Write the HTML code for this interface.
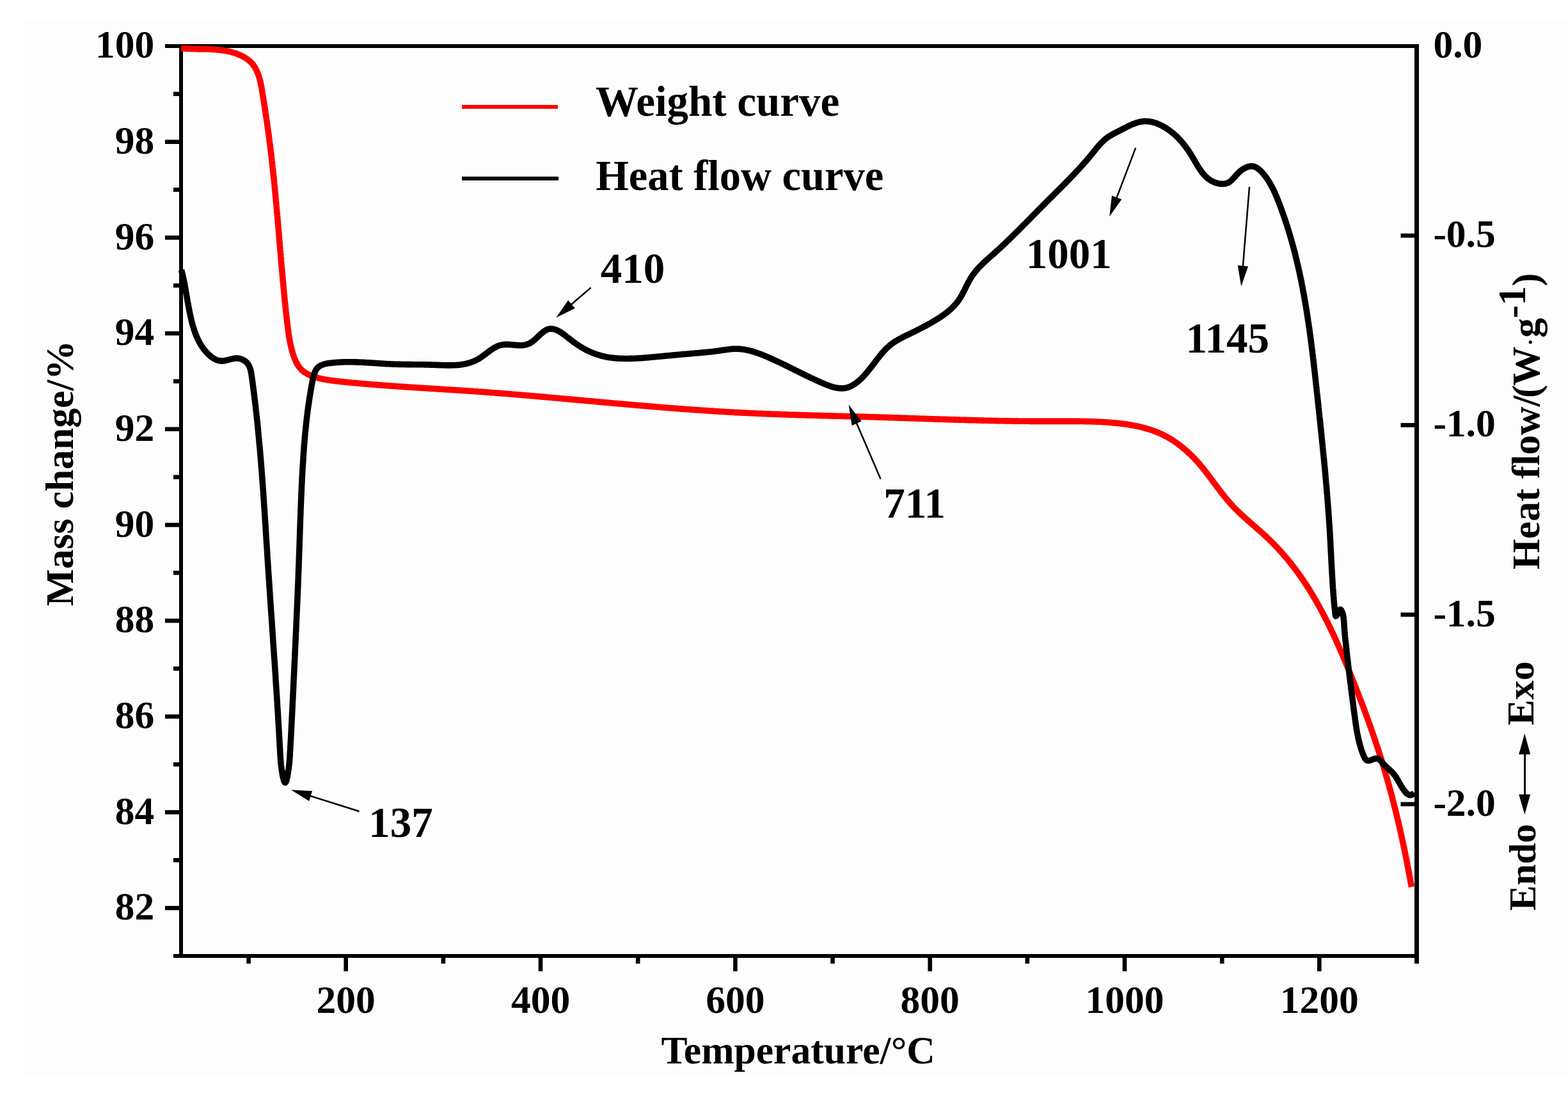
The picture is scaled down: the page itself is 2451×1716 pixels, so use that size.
<!DOCTYPE html><html><head><meta charset="utf-8"><title>TG-DSC curve</title><style>html,body{margin:0;padding:0;background:#fff;}svg{display:block;}text{font-family:'Liberation Serif','Times New Roman',serif;font-weight:bold;fill:#000;}</style></head><body>
<svg width="2451" height="1716" viewBox="0 0 2451 1716">
<rect x="0" y="0" width="2451" height="1716" fill="#ffffff"/>
<rect x="40" y="30" width="2411" height="1652" fill="#fdfdfd"/>
<g stroke="#000" stroke-width="6" fill="none" stroke-linecap="butt">
<path d="M283.0,69.0 V1497.0 M283.0,72.0 H2214.5 M283.0,1494.0 H2214.5"/>
<path d="M2214.5,69.0 V1506.0" stroke-width="7"/>
</g><g stroke="#000" stroke-width="6.6" fill="none">
<path d="M271.0,1494.0 H283.0" stroke-width="6"/>
<path d="M258.0,1419.1 H283.0"/>
<path d="M271.0,1344.3 H283.0"/>
<path d="M258.0,1269.4 H283.0"/>
<path d="M271.0,1194.6 H283.0"/>
<path d="M258.0,1119.8 H283.0"/>
<path d="M271.0,1044.9 H283.0"/>
<path d="M258.0,970.1 H283.0"/>
<path d="M271.0,895.2 H283.0"/>
<path d="M258.0,820.4 H283.0"/>
<path d="M271.0,745.6 H283.0"/>
<path d="M258.0,670.7 H283.0"/>
<path d="M271.0,595.9 H283.0"/>
<path d="M258.0,521.0 H283.0"/>
<path d="M271.0,446.2 H283.0"/>
<path d="M258.0,371.4 H283.0"/>
<path d="M271.0,296.5 H283.0"/>
<path d="M258.0,221.7 H283.0"/>
<path d="M271.0,146.8 H283.0"/>
<path d="M258.0,72.0 H283.0" stroke-width="6"/>
<path d="M388.6,1494.0 V1506.0"/>
<path d="M540.7,1494.0 V1518.0"/>
<path d="M692.9,1494.0 V1506.0"/>
<path d="M845.0,1494.0 V1518.0"/>
<path d="M997.2,1494.0 V1506.0"/>
<path d="M1149.4,1494.0 V1518.0"/>
<path d="M1301.5,1494.0 V1506.0"/>
<path d="M1453.7,1494.0 V1518.0"/>
<path d="M1605.8,1494.0 V1506.0"/>
<path d="M1758.0,1494.0 V1518.0"/>
<path d="M1910.2,1494.0 V1506.0"/>
<path d="M2062.3,1494.0 V1518.0"/>
<path d="M2214.5,1494.0 V1506.0"/>
<path d="M2189.5,368.2 H2214.5"/>
<path d="M2189.5,664.4 H2214.5"/>
<path d="M2189.5,960.6 H2214.5"/>
<path d="M2189.5,1256.8 H2214.5"/>
</g>
<text x="241.3" y="1437.3" font-size="61.5" text-anchor="end">82</text>
<text x="241.3" y="1287.6" font-size="61.5" text-anchor="end">84</text>
<text x="241.3" y="1138.0" font-size="61.5" text-anchor="end">86</text>
<text x="241.3" y="988.3" font-size="61.5" text-anchor="end">88</text>
<text x="241.3" y="838.6" font-size="61.5" text-anchor="end">90</text>
<text x="241.3" y="688.9" font-size="61.5" text-anchor="end">92</text>
<text x="241.3" y="539.2" font-size="61.5" text-anchor="end">94</text>
<text x="241.3" y="389.6" font-size="61.5" text-anchor="end">96</text>
<text x="241.3" y="239.9" font-size="61.5" text-anchor="end">98</text>
<text x="241.3" y="90.2" font-size="61.5" text-anchor="end">100</text>
<text x="2240.4" y="90.0" font-size="61.5">0.0</text>
<text x="2240.4" y="386.2" font-size="61.5">-0.5</text>
<text x="2240.4" y="682.4" font-size="61.5">-1.0</text>
<text x="2240.4" y="978.6" font-size="61.5">-1.5</text>
<text x="2240.4" y="1274.8" font-size="61.5">-2.0</text>
<text x="540.7" y="1583" font-size="61.5" text-anchor="middle">200</text>
<text x="845.0" y="1583" font-size="61.5" text-anchor="middle">400</text>
<text x="1149.4" y="1583" font-size="61.5" text-anchor="middle">600</text>
<text x="1453.7" y="1583" font-size="61.5" text-anchor="middle">800</text>
<text x="1758.0" y="1583" font-size="61.5" text-anchor="middle">1000</text>
<text x="2062.3" y="1583" font-size="61.5" text-anchor="middle">1200</text>
<text x="1033.4" y="1662" font-size="61.6">Temperature/°C</text>
<text transform="translate(114.2,947.3) rotate(-90)" font-size="61.5">Mass change/%</text>
<text transform="translate(2406.2,890) rotate(-90)" font-size="61.5">Heat flow/<tspan x="268">(</tspan><tspan x="286.9">W</tspan><tspan x="349.4" y="-3.3" font-size="34">·</tspan><tspan x="362.2" y="0">g</tspan><tspan x="392.4" y="-22">-</tspan><tspan x="412.4" y="-22">1</tspan><tspan x="442.7" y="0">)</tspan></text>
<text transform="translate(2399.5,1423.2) rotate(-90)" font-size="59.4">Endo</text>
<text transform="translate(2397.2,1133.6) rotate(-90)" font-size="60">Exo</text>
<path d="M2383.5,1170 V1252" stroke="#000" stroke-width="3"/>
<path d="M2383.2,1146.3 L2392.2,1179 L2374.2,1179 Z" fill="#000"/>
<path d="M2383.2,1272.8 L2392.2,1241.6 L2374.2,1241.6 Z" fill="#000"/>
<path d="M283.1,75.4 L284.6,75.5 L286.1,75.7 L287.6,75.8 L289.1,75.9 L290.6,76.0 L292.1,76.1 L293.6,76.1 L295.1,76.2 L296.6,76.3 L298.1,76.3 L299.6,76.4 L301.1,76.4 L302.6,76.5 L304.1,76.5 L305.6,76.5 L307.1,76.5 L308.6,76.6 L310.1,76.6 L311.6,76.6 L313.1,76.6 L314.6,76.6 L316.1,76.7 L317.6,76.7 L319.1,76.7 L320.6,76.8 L322.1,76.8 L323.6,76.8 L325.1,76.9 L326.6,76.9 L328.1,77.0 L329.6,77.1 L331.1,77.1 L332.6,77.2 L334.1,77.3 L335.6,77.4 L337.1,77.5 L338.6,77.6 L340.1,77.8 L341.6,77.9 L343.1,78.1 L344.6,78.2 L346.1,78.4 L347.5,78.6 L349.0,78.9 L350.5,79.1 L352.0,79.3 L353.5,79.6 L354.9,79.9 L356.4,80.2 L357.9,80.5 L359.3,80.8 L360.8,81.2 L362.3,81.6 L363.7,82.0 L365.1,82.4 L366.6,82.8 L368.0,83.3 L369.4,83.8 L370.8,84.3 L372.2,84.9 L373.6,85.4 L375.0,86.0 L376.4,86.6 L377.7,87.3 L379.1,87.9 L380.4,88.6 L381.7,89.4 L383.0,90.1 L384.3,91.0 L385.5,91.8 L386.7,92.7 L387.9,93.6 L389.1,94.5 L390.3,95.5 L391.4,96.5 L392.4,97.5 L393.5,98.6 L394.5,99.8 L395.4,100.9 L396.3,102.1 L397.2,103.3 L398.0,104.6 L398.8,105.9 L399.5,107.2 L400.2,108.5 L400.9,109.9 L401.5,111.2 L402.1,112.6 L402.7,114.0 L403.3,115.4 L403.8,116.8 L404.3,118.2 L404.7,119.6 L405.2,121.1 L405.6,122.5 L406.0,124.0 L406.4,125.4 L406.7,126.9 L407.1,128.3 L407.4,129.8 L407.7,131.3 L408.0,132.7 L408.3,134.2 L408.6,135.7 L408.9,137.2 L409.1,138.6 L409.4,140.1 L409.6,141.6 L409.9,143.1 L410.1,144.6 L410.4,146.0 L410.6,147.5 L410.9,149.0 L411.1,150.5 L411.3,152.0 L411.6,153.4 L411.8,154.9 L412.0,156.4 L412.3,157.9 L412.5,159.4 L412.7,160.9 L413.0,162.3 L413.2,163.8 L413.4,165.3 L413.7,166.8 L413.9,168.3 L414.1,169.8 L414.3,171.3 L414.6,172.7 L414.8,174.2 L415.0,175.7 L415.2,177.2 L415.5,178.7 L415.7,180.2 L415.9,181.6 L416.1,183.1 L416.3,184.6 L416.5,186.1 L416.8,187.6 L417.0,189.1 L417.2,190.6 L417.4,192.0 L417.6,193.5 L417.8,195.0 L418.0,196.5 L418.2,198.0 L418.4,199.5 L418.7,201.0 L418.9,202.5 L419.1,203.9 L419.3,205.4 L419.5,206.9 L419.7,208.4 L419.9,209.9 L420.1,211.4 L420.3,212.9 L420.5,214.4 L420.7,215.8 L420.9,217.3 L421.0,218.8 L421.2,220.3 L421.4,221.8 L421.6,223.3 L421.8,224.8 L422.0,226.3 L422.2,227.8 L422.4,229.2 L422.6,230.7 L422.7,232.2 L422.9,233.7 L423.1,235.2 L423.3,236.7 L423.5,238.2 L423.7,239.7 L423.8,241.2 L424.0,242.7 L424.2,244.2 L424.4,245.6 L424.5,247.1 L424.7,248.6 L424.9,250.1 L425.0,251.6 L425.2,253.1 L425.4,254.6 L425.6,256.1 L425.7,257.6 L425.9,259.1 L426.1,260.6 L426.2,262.1 L426.4,263.5 L426.5,265.0 L426.7,266.5 L426.9,268.0 L427.0,269.5 L427.2,271.0 L427.3,272.5 L427.5,274.0 L427.7,275.5 L427.8,277.0 L428.0,278.5 L428.1,280.0 L428.3,281.5 L428.4,283.0 L428.6,284.4 L428.7,285.9 L428.9,287.4 L429.0,288.9 L429.2,290.4 L429.3,291.9 L429.5,293.4 L429.6,294.9 L429.7,296.4 L429.9,297.9 L430.0,299.4 L430.2,300.9 L430.3,302.4 L430.5,303.9 L430.6,305.4 L430.7,306.9 L430.9,308.4 L431.0,309.9 L431.2,311.3 L431.3,312.8 L431.4,314.3 L431.6,315.8 L431.7,317.3 L431.8,318.8 L432.0,320.3 L432.1,321.8 L432.3,323.3 L432.4,324.8 L432.5,326.3 L432.7,327.8 L432.8,329.3 L432.9,330.8 L433.1,332.3 L433.2,333.8 L433.3,335.3 L433.4,336.8 L433.6,338.3 L433.7,339.8 L433.8,341.3 L434.0,342.8 L434.1,344.2 L434.2,345.7 L434.4,347.2 L434.5,348.7 L434.6,350.2 L434.7,351.7 L434.9,353.2 L435.0,354.7 L435.1,356.2 L435.3,357.7 L435.4,359.2 L435.5,360.7 L435.6,362.2 L435.8,363.7 L435.9,365.2 L436.0,366.7 L436.1,368.2 L436.3,369.7 L436.4,371.2 L436.5,372.7 L436.6,374.2 L436.8,375.7 L436.9,377.2 L437.0,378.7 L437.2,380.2 L437.3,381.6 L437.4,383.1 L437.5,384.6 L437.7,386.1 L437.8,387.6 L437.9,389.1 L438.0,390.6 L438.2,392.1 L438.3,393.6 L438.4,395.1 L438.6,396.6 L438.7,398.1 L438.8,399.6 L438.9,401.1 L439.1,402.6 L439.2,404.1 L439.3,405.6 L439.4,407.1 L439.6,408.6 L439.7,410.1 L439.8,411.6 L440.0,413.1 L440.1,414.6 L440.2,416.1 L440.4,417.5 L440.5,419.0 L440.6,420.5 L440.8,422.0 L440.9,423.5 L441.0,425.0 L441.2,426.5 L441.3,428.0 L441.4,429.5 L441.6,431.0 L441.7,432.5 L441.8,434.0 L442.0,435.5 L442.1,437.0 L442.2,438.5 L442.4,440.0 L442.5,441.5 L442.6,443.0 L442.8,444.5 L442.9,446.0 L443.1,447.5 L443.2,448.9 L443.3,450.4 L443.5,451.9 L443.6,453.4 L443.8,454.9 L443.9,456.4 L444.1,457.9 L444.2,459.4 L444.4,460.9 L444.5,462.4 L444.6,463.9 L444.8,465.4 L444.9,466.9 L445.1,468.4 L445.2,469.9 L445.4,471.4 L445.5,472.9 L445.7,474.3 L445.9,475.8 L446.0,477.3 L446.2,478.8 L446.3,480.3 L446.5,481.8 L446.6,483.3 L446.8,484.8 L446.9,486.3 L447.1,487.8 L447.3,489.3 L447.4,490.8 L447.6,492.3 L447.8,493.8 L447.9,495.2 L448.1,496.7 L448.3,498.2 L448.4,499.7 L448.6,501.2 L448.8,502.7 L448.9,504.2 L449.1,505.7 L449.3,507.2 L449.5,508.7 L449.6,510.2 L449.8,511.7 L450.0,513.1 L450.2,514.6 L450.4,516.1 L450.6,517.6 L450.8,519.1 L451.0,520.6 L451.2,522.1 L451.5,523.6 L451.7,525.0 L451.9,526.5 L452.2,528.0 L452.4,529.5 L452.7,531.0 L453.0,532.4 L453.2,533.9 L453.5,535.4 L453.8,536.9 L454.1,538.3 L454.4,539.8 L454.8,541.3 L455.1,542.7 L455.5,544.2 L455.8,545.6 L456.2,547.1 L456.6,548.5 L457.0,550.0 L457.4,551.4 L457.9,552.9 L458.3,554.3 L458.8,555.7 L459.3,557.1 L459.8,558.5 L460.3,560.0 L460.9,561.3 L461.5,562.7 L462.1,564.1 L462.7,565.5 L463.4,566.8 L464.1,568.1 L464.8,569.4 L465.6,570.7 L466.4,572.0 L467.3,573.2 L468.2,574.4 L469.2,575.5 L470.2,576.7 L471.2,577.7 L472.3,578.8 L473.5,579.7 L474.6,580.7 L475.8,581.6 L477.1,582.4 L478.4,583.2 L479.7,583.9 L481.0,584.7 L482.3,585.3 L483.7,586.0 L485.1,586.6 L486.4,587.2 L487.8,587.7 L489.2,588.2 L490.7,588.7 L492.1,589.2 L493.5,589.6 L495.0,590.1 L496.4,590.5 L497.9,590.9 L499.3,591.2 L500.8,591.6 L502.2,591.9 L503.7,592.3 L505.2,592.6 L506.6,592.9 L508.1,593.1 L509.6,593.4 L511.1,593.6 L512.6,593.9 L514.0,594.1 L515.5,594.3 L517.0,594.5 L518.5,594.7 L520.0,594.9 L521.5,595.1 L523.0,595.3 L524.5,595.5 L526.0,595.7 L527.4,595.8 L528.9,596.0 L530.4,596.1 L531.9,596.3 L533.4,596.5 L534.9,596.6 L536.4,596.8 L537.9,596.9 L539.4,597.1 L540.9,597.2 L542.4,597.4 L543.9,597.5 L545.4,597.7 L546.9,597.8 L548.4,597.9 L549.8,598.1 L551.3,598.2 L552.8,598.4 L554.3,598.5 L555.8,598.6 L557.3,598.8 L558.8,598.9 L560.3,599.1 L561.8,599.2 L563.3,599.3 L564.8,599.5 L566.3,599.6 L567.8,599.7 L569.3,599.8 L570.8,600.0 L572.3,600.1 L573.8,600.2 L575.3,600.4 L576.8,600.5 L578.3,600.6 L579.8,600.7 L581.3,600.8 L582.8,601.0 L584.2,601.1 L585.7,601.2 L587.2,601.3 L588.7,601.4 L590.2,601.6 L591.7,601.7 L593.2,601.8 L594.7,601.9 L596.2,602.0 L597.7,602.1 L599.2,602.3 L600.7,602.4 L602.2,602.5 L603.7,602.6 L605.2,602.7 L606.7,602.8 L608.2,602.9 L609.7,603.0 L611.2,603.1 L612.7,603.2 L614.2,603.3 L615.7,603.4 L617.2,603.6 L618.7,603.7 L620.2,603.8 L621.7,603.9 L623.2,604.0 L624.7,604.1 L626.2,604.2 L627.7,604.3 L629.2,604.4 L630.7,604.5 L632.2,604.6 L633.7,604.7 L635.2,604.8 L636.7,604.9 L638.2,605.0 L639.7,605.1 L641.2,605.2 L642.7,605.3 L644.1,605.4 L645.6,605.5 L647.1,605.6 L648.6,605.7 L650.1,605.8 L651.6,605.8 L653.1,605.9 L654.6,606.0 L656.1,606.1 L657.6,606.2 L659.1,606.3 L660.6,606.4 L662.1,606.5 L663.6,606.6 L665.1,606.7 L666.6,606.8 L668.1,606.9 L669.6,607.0 L671.1,607.1 L672.6,607.2 L674.1,607.3 L675.6,607.4 L677.1,607.5 L678.6,607.5 L680.1,607.6 L681.6,607.7 L683.1,607.8 L684.6,607.9 L686.1,608.0 L687.6,608.1 L689.1,608.2 L690.6,608.3 L692.1,608.4 L693.6,608.5 L695.1,608.6 L696.6,608.7 L698.1,608.8 L699.6,608.9 L701.1,609.0 L702.6,609.0 L704.1,609.1 L705.6,609.2 L707.1,609.3 L708.6,609.4 L710.1,609.5 L711.6,609.6 L713.1,609.7 L714.6,609.8 L716.1,609.9 L717.6,610.0 L719.1,610.1 L720.6,610.2 L722.1,610.3 L723.6,610.4 L725.1,610.5 L726.6,610.6 L728.1,610.7 L729.6,610.8 L731.1,610.9 L732.5,611.0 L734.0,611.1 L735.5,611.2 L737.0,611.3 L738.5,611.4 L740.0,611.5 L741.5,611.6 L743.0,611.7 L744.5,611.8 L746.0,611.9 L747.5,612.0 L749.0,612.2 L750.5,612.3 L752.0,612.4 L753.5,612.5 L755.0,612.6 L756.5,612.7 L758.0,612.8 L759.5,612.9 L761.0,613.0 L762.5,613.1 L764.0,613.3 L765.5,613.4 L767.0,613.5 L768.5,613.6 L770.0,613.7 L771.5,613.8 L773.0,613.9 L774.5,614.1 L776.0,614.2 L777.5,614.3 L779.0,614.4 L780.5,614.5 L782.0,614.6 L783.5,614.8 L785.0,614.9 L786.4,615.0 L787.9,615.1 L789.4,615.2 L790.9,615.3 L792.4,615.5 L793.9,615.6 L795.4,615.7 L796.9,615.8 L798.4,615.9 L799.9,616.1 L801.4,616.2 L802.9,616.3 L804.4,616.4 L805.9,616.6 L807.4,616.7 L808.9,616.8 L810.4,616.9 L811.9,617.1 L813.4,617.2 L814.9,617.3 L816.4,617.4 L817.9,617.6 L819.4,617.7 L820.9,617.8 L822.4,617.9 L823.9,618.1 L825.4,618.2 L826.8,618.3 L828.3,618.5 L829.8,618.6 L831.3,618.7 L832.8,618.8 L834.3,619.0 L835.8,619.1 L837.3,619.2 L838.8,619.4 L840.3,619.5 L841.8,619.6 L843.3,619.7 L844.8,619.9 L846.3,620.0 L847.8,620.1 L849.3,620.3 L850.8,620.4 L852.3,620.5 L853.8,620.7 L855.3,620.8 L856.8,620.9 L858.3,621.1 L859.8,621.2 L861.2,621.3 L862.7,621.5 L864.2,621.6 L865.7,621.7 L867.2,621.9 L868.7,622.0 L870.2,622.1 L871.7,622.3 L873.2,622.4 L874.7,622.5 L876.2,622.7 L877.7,622.8 L879.2,622.9 L880.7,623.1 L882.2,623.2 L883.7,623.3 L885.2,623.5 L886.7,623.6 L888.2,623.7 L889.7,623.9 L891.2,624.0 L892.7,624.1 L894.1,624.3 L895.6,624.4 L897.1,624.5 L898.6,624.7 L900.1,624.8 L901.6,625.0 L903.1,625.1 L904.6,625.2 L906.1,625.4 L907.6,625.5 L909.1,625.6 L910.6,625.8 L912.1,625.9 L913.6,626.0 L915.1,626.2 L916.6,626.3 L918.1,626.4 L919.6,626.6 L921.1,626.7 L922.6,626.8 L924.1,627.0 L925.5,627.1 L927.0,627.3 L928.5,627.4 L930.0,627.5 L931.5,627.7 L933.0,627.8 L934.5,627.9 L936.0,628.1 L937.5,628.2 L939.0,628.3 L940.5,628.5 L942.0,628.6 L943.5,628.7 L945.0,628.9 L946.5,629.0 L948.0,629.1 L949.5,629.3 L951.0,629.4 L952.5,629.5 L954.0,629.7 L955.5,629.8 L956.9,629.9 L958.4,630.1 L959.9,630.2 L961.4,630.3 L962.9,630.5 L964.4,630.6 L965.9,630.7 L967.4,630.9 L968.9,631.0 L970.4,631.1 L971.9,631.3 L973.4,631.4 L974.9,631.5 L976.4,631.7 L977.9,631.8 L979.4,631.9 L980.9,632.1 L982.4,632.2 L983.9,632.3 L985.4,632.5 L986.9,632.6 L988.4,632.7 L989.8,632.8 L991.3,633.0 L992.8,633.1 L994.3,633.2 L995.8,633.4 L997.3,633.5 L998.8,633.6 L1000.3,633.7 L1001.8,633.9 L1003.3,634.0 L1004.8,634.1 L1006.3,634.3 L1007.8,634.4 L1009.3,634.5 L1010.8,634.6 L1012.3,634.8 L1013.8,634.9 L1015.3,635.0 L1016.8,635.1 L1018.3,635.3 L1019.8,635.4 L1021.3,635.5 L1022.8,635.6 L1024.3,635.8 L1025.8,635.9 L1027.2,636.0 L1028.7,636.1 L1030.2,636.2 L1031.7,636.4 L1033.2,636.5 L1034.7,636.6 L1036.2,636.7 L1037.7,636.9 L1039.2,637.0 L1040.7,637.1 L1042.2,637.2 L1043.7,637.3 L1045.2,637.5 L1046.7,637.6 L1048.2,637.7 L1049.7,637.8 L1051.2,637.9 L1052.7,638.0 L1054.2,638.2 L1055.7,638.3 L1057.2,638.4 L1058.7,638.5 L1060.2,638.6 L1061.7,638.7 L1063.2,638.8 L1064.7,639.0 L1066.2,639.1 L1067.7,639.2 L1069.2,639.3 L1070.7,639.4 L1072.2,639.5 L1073.7,639.6 L1075.1,639.7 L1076.6,639.8 L1078.1,640.0 L1079.6,640.1 L1081.1,640.2 L1082.6,640.3 L1084.1,640.4 L1085.6,640.5 L1087.1,640.6 L1088.6,640.7 L1090.1,640.8 L1091.6,640.9 L1093.1,641.0 L1094.6,641.1 L1096.1,641.2 L1097.6,641.3 L1099.1,641.4 L1100.6,641.5 L1102.1,641.6 L1103.6,641.7 L1105.1,641.8 L1106.6,641.9 L1108.1,642.0 L1109.6,642.1 L1111.1,642.2 L1112.6,642.3 L1114.1,642.4 L1115.6,642.5 L1117.1,642.6 L1118.6,642.7 L1120.1,642.8 L1121.6,642.9 L1123.1,643.0 L1124.6,643.1 L1126.1,643.2 L1127.6,643.3 L1129.1,643.4 L1130.6,643.4 L1132.1,643.5 L1133.6,643.6 L1135.1,643.7 L1136.6,643.8 L1138.1,643.9 L1139.6,644.0 L1141.1,644.1 L1142.6,644.1 L1144.1,644.2 L1145.6,644.3 L1147.1,644.4 L1148.6,644.5 L1150.1,644.6 L1151.6,644.6 L1153.1,644.7 L1154.6,644.8 L1156.1,644.9 L1157.6,644.9 L1159.1,645.0 L1160.6,645.1 L1162.1,645.2 L1163.6,645.3 L1165.1,645.3 L1166.6,645.4 L1168.1,645.5 L1169.6,645.5 L1171.1,645.6 L1172.6,645.7 L1174.1,645.8 L1175.5,645.8 L1177.0,645.9 L1178.5,646.0 L1180.0,646.0 L1181.5,646.1 L1183.0,646.2 L1184.5,646.2 L1186.0,646.3 L1187.5,646.4 L1189.0,646.4 L1190.5,646.5 L1192.0,646.6 L1193.5,646.6 L1195.0,646.7 L1196.5,646.7 L1198.0,646.8 L1199.5,646.9 L1201.0,646.9 L1202.5,647.0 L1204.0,647.0 L1205.6,647.1 L1207.1,647.2 L1208.6,647.2 L1210.1,647.3 L1211.6,647.3 L1213.1,647.4 L1214.6,647.4 L1216.1,647.5 L1217.6,647.5 L1219.1,647.6 L1220.6,647.6 L1222.1,647.7 L1223.6,647.8 L1225.1,647.8 L1226.6,647.9 L1228.1,647.9 L1229.6,648.0 L1231.1,648.0 L1232.6,648.1 L1234.1,648.1 L1235.6,648.2 L1237.1,648.2 L1238.6,648.2 L1240.1,648.3 L1241.6,648.3 L1243.1,648.4 L1244.6,648.4 L1246.1,648.5 L1247.6,648.5 L1249.1,648.6 L1250.6,648.6 L1252.1,648.7 L1253.6,648.7 L1255.1,648.8 L1256.6,648.8 L1258.1,648.8 L1259.6,648.9 L1261.1,648.9 L1262.6,649.0 L1264.1,649.0 L1265.6,649.1 L1267.1,649.1 L1268.6,649.2 L1270.1,649.2 L1271.6,649.2 L1273.1,649.3 L1274.6,649.3 L1276.1,649.4 L1277.6,649.4 L1279.1,649.4 L1280.6,649.5 L1282.1,649.5 L1283.6,649.6 L1285.1,649.6 L1286.6,649.6 L1288.1,649.7 L1289.6,649.7 L1291.1,649.8 L1292.6,649.8 L1294.1,649.9 L1295.6,649.9 L1297.1,649.9 L1298.6,650.0 L1300.1,650.0 L1301.6,650.1 L1303.1,650.1 L1304.6,650.1 L1306.1,650.2 L1307.6,650.2 L1309.1,650.3 L1310.6,650.3 L1312.1,650.3 L1313.6,650.4 L1315.1,650.4 L1316.6,650.4 L1318.1,650.5 L1319.6,650.5 L1321.1,650.6 L1322.6,650.6 L1324.1,650.6 L1325.6,650.7 L1327.1,650.7 L1328.6,650.8 L1330.1,650.8 L1331.6,650.9 L1333.1,650.9 L1334.6,650.9 L1336.1,651.0 L1337.6,651.0 L1339.1,651.1 L1340.6,651.1 L1342.1,651.1 L1343.6,651.2 L1345.1,651.2 L1346.6,651.3 L1348.1,651.3 L1349.6,651.4 L1351.1,651.4 L1352.6,651.4 L1354.1,651.5 L1355.6,651.5 L1357.1,651.6 L1358.6,651.6 L1360.1,651.7 L1361.6,651.7 L1363.1,651.7 L1364.6,651.8 L1366.1,651.8 L1367.6,651.9 L1369.1,651.9 L1370.6,652.0 L1372.1,652.0 L1373.6,652.1 L1375.1,652.1 L1376.6,652.2 L1378.1,652.2 L1379.6,652.2 L1381.1,652.3 L1382.6,652.3 L1384.1,652.4 L1385.6,652.4 L1387.1,652.5 L1388.6,652.5 L1390.1,652.6 L1391.6,652.6 L1393.1,652.7 L1394.6,652.7 L1396.1,652.8 L1397.6,652.8 L1399.1,652.9 L1400.6,652.9 L1402.1,653.0 L1403.6,653.0 L1405.1,653.1 L1406.6,653.1 L1408.1,653.2 L1409.6,653.2 L1411.1,653.3 L1412.6,653.3 L1414.1,653.4 L1415.6,653.4 L1417.1,653.5 L1418.6,653.5 L1420.1,653.6 L1421.6,653.6 L1423.1,653.7 L1424.6,653.7 L1426.1,653.8 L1427.6,653.8 L1429.1,653.9 L1430.6,653.9 L1432.1,654.0 L1433.6,654.0 L1435.1,654.1 L1436.6,654.1 L1438.2,654.2 L1439.7,654.2 L1441.2,654.3 L1442.7,654.3 L1444.2,654.4 L1445.7,654.4 L1447.2,654.5 L1448.7,654.5 L1450.2,654.6 L1451.7,654.6 L1453.2,654.7 L1454.7,654.7 L1456.2,654.8 L1457.7,654.8 L1459.2,654.9 L1460.7,654.9 L1462.2,655.0 L1463.7,655.0 L1465.2,655.1 L1466.7,655.1 L1468.2,655.1 L1469.7,655.2 L1471.2,655.2 L1472.7,655.3 L1474.2,655.3 L1475.7,655.4 L1477.2,655.4 L1478.7,655.5 L1480.2,655.5 L1481.7,655.6 L1483.2,655.6 L1484.7,655.7 L1486.2,655.7 L1487.7,655.8 L1489.2,655.8 L1490.7,655.9 L1492.2,655.9 L1493.7,655.9 L1495.2,656.0 L1496.7,656.0 L1498.2,656.1 L1499.7,656.1 L1501.2,656.2 L1502.7,656.2 L1504.2,656.3 L1505.7,656.3 L1507.2,656.3 L1508.7,656.4 L1510.2,656.4 L1511.7,656.5 L1513.2,656.5 L1514.7,656.6 L1516.2,656.6 L1517.7,656.6 L1519.2,656.7 L1520.7,656.7 L1522.2,656.8 L1523.7,656.8 L1525.2,656.8 L1526.7,656.9 L1528.2,656.9 L1529.7,657.0 L1531.2,657.0 L1532.7,657.0 L1534.2,657.1 L1535.7,657.1 L1537.2,657.1 L1538.7,657.2 L1540.2,657.2 L1541.7,657.2 L1543.2,657.3 L1544.7,657.3 L1546.2,657.4 L1547.7,657.4 L1549.2,657.4 L1550.7,657.5 L1552.2,657.5 L1553.7,657.5 L1555.2,657.5 L1556.7,657.6 L1558.2,657.6 L1559.7,657.6 L1561.2,657.7 L1562.7,657.7 L1564.2,657.7 L1565.7,657.8 L1567.2,657.8 L1568.7,657.8 L1570.2,657.8 L1571.7,657.9 L1573.2,657.9 L1574.7,657.9 L1576.2,657.9 L1577.7,658.0 L1579.2,658.0 L1580.7,658.0 L1582.2,658.0 L1583.7,658.1 L1585.2,658.1 L1586.7,658.1 L1588.2,658.1 L1589.7,658.1 L1591.2,658.2 L1592.7,658.2 L1594.2,658.2 L1595.7,658.2 L1597.2,658.2 L1598.7,658.2 L1600.2,658.3 L1601.7,658.3 L1603.2,658.3 L1604.7,658.3 L1606.2,658.3 L1607.7,658.3 L1609.2,658.3 L1610.7,658.4 L1612.2,658.4 L1613.8,658.4 L1615.3,658.4 L1616.8,658.4 L1618.3,658.4 L1619.8,658.4 L1621.3,658.4 L1622.8,658.4 L1624.3,658.4 L1625.8,658.4 L1627.3,658.4 L1628.8,658.4 L1630.3,658.4 L1631.8,658.4 L1633.3,658.4 L1634.8,658.4 L1636.3,658.4 L1637.8,658.4 L1639.3,658.4 L1640.8,658.4 L1642.3,658.4 L1643.8,658.4 L1645.3,658.4 L1646.8,658.4 L1648.3,658.4 L1649.8,658.4 L1651.3,658.4 L1652.8,658.4 L1654.3,658.4 L1655.8,658.4 L1657.3,658.4 L1658.8,658.4 L1660.3,658.4 L1661.8,658.4 L1663.3,658.4 L1664.8,658.4 L1666.3,658.4 L1667.8,658.4 L1669.3,658.4 L1670.8,658.4 L1672.3,658.4 L1673.8,658.4 L1675.3,658.4 L1676.8,658.4 L1678.3,658.4 L1679.8,658.4 L1681.3,658.4 L1682.8,658.4 L1684.3,658.4 L1685.8,658.4 L1687.3,658.4 L1688.8,658.4 L1690.3,658.5 L1691.8,658.5 L1693.3,658.5 L1694.8,658.5 L1696.3,658.6 L1697.8,658.6 L1699.3,658.6 L1700.8,658.7 L1702.3,658.7 L1703.8,658.7 L1705.3,658.8 L1706.8,658.8 L1708.3,658.9 L1709.8,658.9 L1711.3,659.0 L1712.8,659.0 L1714.3,659.1 L1715.8,659.2 L1717.3,659.2 L1718.8,659.3 L1720.3,659.4 L1721.8,659.5 L1723.3,659.5 L1724.8,659.6 L1726.3,659.7 L1727.8,659.8 L1729.3,659.9 L1730.8,660.0 L1732.3,660.1 L1733.8,660.2 L1735.3,660.4 L1736.8,660.5 L1738.3,660.6 L1739.8,660.7 L1741.3,660.9 L1742.8,661.0 L1744.3,661.1 L1745.8,661.3 L1747.3,661.5 L1748.8,661.6 L1750.3,661.8 L1751.7,662.0 L1753.2,662.1 L1754.7,662.3 L1756.2,662.5 L1757.7,662.7 L1759.2,662.9 L1760.7,663.1 L1762.2,663.3 L1763.6,663.6 L1765.1,663.8 L1766.6,664.1 L1768.1,664.3 L1769.6,664.6 L1771.0,664.8 L1772.5,665.1 L1774.0,665.4 L1775.5,665.7 L1776.9,666.0 L1778.4,666.3 L1779.9,666.6 L1781.3,667.0 L1782.8,667.3 L1784.3,667.6 L1785.7,668.0 L1787.2,668.4 L1788.6,668.8 L1790.1,669.2 L1791.5,669.6 L1793.0,670.0 L1794.4,670.4 L1795.8,670.9 L1797.3,671.3 L1798.7,671.8 L1800.1,672.2 L1801.5,672.7 L1803.0,673.2 L1804.4,673.8 L1805.8,674.3 L1807.2,674.8 L1808.6,675.4 L1810.0,675.9 L1811.3,676.5 L1812.7,677.1 L1814.1,677.7 L1815.5,678.4 L1816.8,679.0 L1818.2,679.6 L1819.5,680.3 L1820.8,681.0 L1822.2,681.7 L1823.5,682.4 L1824.8,683.1 L1826.1,683.9 L1827.4,684.6 L1828.7,685.4 L1830.0,686.1 L1831.3,686.9 L1832.6,687.7 L1833.8,688.5 L1835.1,689.4 L1836.3,690.2 L1837.6,691.1 L1838.8,691.9 L1840.0,692.8 L1841.2,693.7 L1842.4,694.6 L1843.6,695.5 L1844.8,696.4 L1846.0,697.3 L1847.2,698.3 L1848.3,699.2 L1849.5,700.2 L1850.6,701.1 L1851.8,702.1 L1852.9,703.1 L1854.1,704.1 L1855.2,705.1 L1856.3,706.1 L1857.4,707.1 L1858.5,708.1 L1859.6,709.1 L1860.7,710.2 L1861.7,711.2 L1862.8,712.3 L1863.9,713.3 L1864.9,714.4 L1866.0,715.5 L1867.0,716.6 L1868.0,717.7 L1869.1,718.8 L1870.1,719.9 L1871.1,721.0 L1872.1,722.1 L1873.1,723.2 L1874.1,724.4 L1875.0,725.5 L1876.0,726.6 L1877.0,727.8 L1877.9,728.9 L1878.9,730.1 L1879.9,731.3 L1880.8,732.4 L1881.7,733.6 L1882.7,734.8 L1883.6,735.9 L1884.5,737.1 L1885.5,738.3 L1886.4,739.5 L1887.3,740.7 L1888.2,741.9 L1889.1,743.1 L1890.0,744.3 L1890.9,745.5 L1891.8,746.7 L1892.7,747.9 L1893.6,749.1 L1894.5,750.3 L1895.4,751.5 L1896.3,752.7 L1897.2,753.9 L1898.1,755.1 L1899.0,756.3 L1899.9,757.5 L1900.8,758.7 L1901.7,759.9 L1902.6,761.1 L1903.5,762.3 L1904.4,763.5 L1905.3,764.7 L1906.2,765.9 L1907.1,767.1 L1908.1,768.3 L1909.0,769.5 L1909.9,770.7 L1910.8,771.8 L1911.7,773.0 L1912.7,774.2 L1913.6,775.4 L1914.5,776.5 L1915.5,777.7 L1916.4,778.9 L1917.4,780.0 L1918.4,781.2 L1919.3,782.3 L1920.3,783.5 L1921.3,784.6 L1922.3,785.7 L1923.3,786.9 L1924.3,788.0 L1925.3,789.1 L1926.3,790.2 L1927.3,791.3 L1928.4,792.4 L1929.4,793.4 L1930.5,794.5 L1931.5,795.6 L1932.6,796.7 L1933.6,797.7 L1934.7,798.8 L1935.8,799.8 L1936.9,800.9 L1938.0,801.9 L1939.1,802.9 L1940.1,803.9 L1941.2,805.0 L1942.4,806.0 L1943.5,807.0 L1944.6,808.0 L1945.7,809.0 L1946.8,810.0 L1947.9,811.0 L1949.0,812.0 L1950.2,813.0 L1951.3,814.0 L1952.4,815.0 L1953.5,816.0 L1954.7,817.0 L1955.8,818.0 L1956.9,819.0 L1958.1,820.0 L1959.2,820.9 L1960.3,821.9 L1961.5,822.9 L1962.6,823.9 L1963.7,824.9 L1964.8,825.9 L1966.0,826.9 L1967.1,827.9 L1968.2,828.8 L1969.4,829.8 L1970.5,830.8 L1971.6,831.8 L1972.7,832.8 L1973.8,833.8 L1974.9,834.8 L1976.1,835.9 L1977.2,836.9 L1978.3,837.9 L1979.4,838.9 L1980.5,839.9 L1981.6,841.0 L1982.6,842.0 L1983.7,843.0 L1984.8,844.1 L1985.9,845.1 L1987.0,846.2 L1988.0,847.2 L1989.1,848.3 L1990.1,849.4 L1991.2,850.4 L1992.2,851.5 L1993.3,852.6 L1994.3,853.7 L1995.4,854.8 L1996.4,855.9 L1997.4,856.9 L1998.4,858.0 L1999.5,859.2 L2000.5,860.3 L2001.5,861.4 L2002.5,862.5 L2003.5,863.6 L2004.5,864.7 L2005.5,865.9 L2006.5,867.0 L2007.4,868.1 L2008.4,869.3 L2009.4,870.4 L2010.4,871.5 L2011.3,872.7 L2012.3,873.8 L2013.3,875.0 L2014.2,876.2 L2015.2,877.3 L2016.1,878.5 L2017.0,879.7 L2018.0,880.8 L2018.9,882.0 L2019.8,883.2 L2020.8,884.4 L2021.7,885.6 L2022.6,886.8 L2023.5,888.0 L2024.4,889.2 L2025.3,890.4 L2026.2,891.6 L2027.1,892.8 L2028.0,894.0 L2028.9,895.2 L2029.7,896.4 L2030.6,897.6 L2031.5,898.9 L2032.4,900.1 L2033.2,901.3 L2034.1,902.5 L2034.9,903.8 L2035.8,905.0 L2036.6,906.3 L2037.5,907.5 L2038.3,908.7 L2039.1,910.0 L2040.0,911.2 L2040.8,912.5 L2041.6,913.7 L2042.4,915.0 L2043.3,916.3 L2044.1,917.5 L2044.9,918.8 L2045.7,920.1 L2046.5,921.3 L2047.3,922.6 L2048.1,923.9 L2048.9,925.2 L2049.6,926.4 L2050.4,927.7 L2051.2,929.0 L2052.0,930.3 L2052.7,931.6 L2053.5,932.9 L2054.3,934.2 L2055.0,935.5 L2055.8,936.8 L2056.5,938.1 L2057.3,939.4 L2058.0,940.7 L2058.8,942.0 L2059.5,943.3 L2060.2,944.6 L2061.0,945.9 L2061.7,947.2 L2062.4,948.5 L2063.2,949.8 L2063.9,951.2 L2064.6,952.5 L2065.3,953.8 L2066.0,955.1 L2066.7,956.5 L2067.4,957.8 L2068.1,959.1 L2068.8,960.4 L2069.5,961.8 L2070.2,963.1 L2070.9,964.4 L2071.6,965.8 L2072.3,967.1 L2072.9,968.4 L2073.6,969.8 L2074.3,971.1 L2075.0,972.5 L2075.6,973.8 L2076.3,975.2 L2077.0,976.5 L2077.6,977.9 L2078.3,979.2 L2078.9,980.6 L2079.6,981.9 L2080.2,983.3 L2080.9,984.6 L2081.5,986.0 L2082.2,987.3 L2082.8,988.7 L2083.5,990.0 L2084.1,991.4 L2084.7,992.8 L2085.4,994.1 L2086.0,995.5 L2086.6,996.8 L2087.2,998.2 L2087.9,999.6 L2088.5,1000.9 L2089.1,1002.3 L2089.7,1003.7 L2090.3,1005.1 L2091.0,1006.4 L2091.6,1007.8 L2092.2,1009.2 L2092.8,1010.5 L2093.4,1011.9 L2094.0,1013.3 L2094.6,1014.7 L2095.2,1016.0 L2095.8,1017.4 L2096.4,1018.8 L2097.0,1020.2 L2097.6,1021.6 L2098.2,1022.9 L2098.8,1024.3 L2099.3,1025.7 L2099.9,1027.1 L2100.5,1028.5 L2101.1,1029.8 L2101.7,1031.2 L2102.3,1032.6 L2102.8,1034.0 L2103.4,1035.4 L2104.0,1036.8 L2104.6,1038.2 L2105.1,1039.5 L2105.7,1040.9 L2106.3,1042.3 L2106.9,1043.7 L2107.4,1045.1 L2108.0,1046.5 L2108.6,1047.9 L2109.1,1049.3 L2109.7,1050.7 L2110.3,1052.0 L2110.8,1053.4 L2111.4,1054.8 L2111.9,1056.2 L2112.5,1057.6 L2113.1,1059.0 L2113.6,1060.4 L2114.2,1061.8 L2114.7,1063.2 L2115.3,1064.6 L2115.8,1066.0 L2116.4,1067.4 L2117.0,1068.8 L2117.5,1070.2 L2118.1,1071.6 L2118.6,1073.0 L2119.2,1074.4 L2119.7,1075.8 L2120.3,1077.2 L2120.8,1078.6 L2121.3,1080.0 L2121.9,1081.4 L2122.4,1082.8 L2123.0,1084.2 L2123.5,1085.6 L2124.1,1087.0 L2124.6,1088.4 L2125.1,1089.8 L2125.7,1091.2 L2126.2,1092.6 L2126.8,1094.0 L2127.3,1095.4 L2127.8,1096.8 L2128.4,1098.2 L2128.9,1099.6 L2129.4,1101.0 L2129.9,1102.4 L2130.5,1103.8 L2131.0,1105.2 L2131.5,1106.6 L2132.1,1108.0 L2132.6,1109.4 L2133.1,1110.8 L2133.6,1112.2 L2134.1,1113.6 L2134.7,1115.0 L2135.2,1116.5 L2135.7,1117.9 L2136.2,1119.3 L2136.7,1120.7 L2137.2,1122.1 L2137.7,1123.5 L2138.3,1124.9 L2138.8,1126.3 L2139.3,1127.7 L2139.8,1129.2 L2140.3,1130.6 L2140.8,1132.0 L2141.3,1133.4 L2141.8,1134.8 L2142.3,1136.2 L2142.8,1137.6 L2143.3,1139.1 L2143.8,1140.5 L2144.3,1141.9 L2144.8,1143.3 L2145.3,1144.7 L2145.8,1146.2 L2146.3,1147.6 L2146.7,1149.0 L2147.2,1150.4 L2147.7,1151.8 L2148.2,1153.3 L2148.7,1154.7 L2149.2,1156.1 L2149.6,1157.5 L2150.1,1158.9 L2150.6,1160.4 L2151.1,1161.8 L2151.5,1163.2 L2152.0,1164.6 L2152.5,1166.1 L2153.0,1167.5 L2153.4,1168.9 L2153.9,1170.3 L2154.4,1171.8 L2154.8,1173.2 L2155.3,1174.6 L2155.7,1176.1 L2156.2,1177.5 L2156.7,1178.9 L2157.1,1180.4 L2157.6,1181.8 L2158.0,1183.2 L2158.5,1184.6 L2158.9,1186.1 L2159.4,1187.5 L2159.8,1188.9 L2160.2,1190.4 L2160.7,1191.8 L2161.1,1193.3 L2161.6,1194.7 L2162.0,1196.1 L2162.4,1197.6 L2162.9,1199.0 L2163.3,1200.4 L2163.7,1201.9 L2164.2,1203.3 L2164.6,1204.8 L2165.0,1206.2 L2165.4,1207.6 L2165.9,1209.1 L2166.3,1210.5 L2166.7,1212.0 L2167.1,1213.4 L2167.5,1214.8 L2167.9,1216.3 L2168.4,1217.7 L2168.8,1219.2 L2169.2,1220.6 L2169.6,1222.1 L2170.0,1223.5 L2170.4,1225.0 L2170.8,1226.4 L2171.2,1227.8 L2171.6,1229.3 L2172.0,1230.7 L2172.4,1232.2 L2172.8,1233.6 L2173.2,1235.1 L2173.6,1236.5 L2174.0,1238.0 L2174.4,1239.4 L2174.7,1240.9 L2175.1,1242.3 L2175.5,1243.8 L2175.9,1245.2 L2176.3,1246.7 L2176.7,1248.1 L2177.0,1249.6 L2177.4,1251.0 L2177.8,1252.5 L2178.2,1254.0 L2178.5,1255.4 L2178.9,1256.9 L2179.3,1258.3 L2179.6,1259.8 L2180.0,1261.2 L2180.4,1262.7 L2180.7,1264.1 L2181.1,1265.6 L2181.5,1267.1 L2181.8,1268.5 L2182.2,1270.0 L2182.5,1271.4 L2182.9,1272.9 L2183.3,1274.3 L2183.6,1275.8 L2184.0,1277.3 L2184.3,1278.7 L2184.7,1280.2 L2185.0,1281.6 L2185.4,1283.1 L2185.7,1284.6 L2186.0,1286.0 L2186.4,1287.5 L2186.7,1289.0 L2187.1,1290.4 L2187.4,1291.9 L2187.7,1293.3 L2188.1,1294.8 L2188.4,1296.3 L2188.7,1297.7 L2189.1,1299.2 L2189.4,1300.7 L2189.7,1302.1 L2190.1,1303.6 L2190.4,1305.1 L2190.7,1306.5 L2191.0,1308.0 L2191.3,1309.5 L2191.7,1310.9 L2192.0,1312.4 L2192.3,1313.9 L2192.6,1315.3 L2192.9,1316.8 L2193.3,1318.3 L2193.6,1319.7 L2193.9,1321.2 L2194.2,1322.7 L2194.5,1324.1 L2194.8,1325.6 L2195.1,1327.1 L2195.4,1328.5 L2195.7,1330.0 L2196.0,1331.5 L2196.3,1333.0 L2196.6,1334.4 L2196.9,1335.9 L2197.2,1337.4 L2197.5,1338.8 L2197.8,1340.3 L2198.1,1341.8 L2198.4,1343.3 L2198.7,1344.7 L2199.0,1346.2 L2199.3,1347.7 L2199.6,1349.2 L2199.8,1350.6 L2200.1,1352.1 L2200.4,1353.6 L2200.7,1355.1 L2201.0,1356.5 L2201.3,1358.0 L2201.5,1359.5 L2201.8,1361.0 L2202.1,1362.4 L2202.4,1363.9 L2202.7,1365.4 L2202.9,1366.9 L2203.2,1368.3 L2203.5,1369.8 L2203.7,1371.3 L2204.0,1372.8 L2204.3,1374.2 L2204.5,1375.7 L2204.8,1377.2 L2205.1,1378.7 L2205.3,1380.1 L2205.6,1381.6 L2205.9,1383.1 L2206.1,1384.6 L2206.4,1386.1" fill="none" stroke="#ff0000" stroke-width="9.6" stroke-linejoin="round" stroke-linecap="butt"/>
<path d="M283.5,421.8 L283.9,423.3 L284.2,424.7 L284.6,426.2 L285.0,427.7 L285.3,429.1 L285.7,430.6 L286.0,432.0 L286.3,433.5 L286.7,435.0 L287.0,436.4 L287.3,437.9 L287.6,439.4 L287.9,440.8 L288.2,442.3 L288.5,443.8 L288.7,445.3 L289.0,446.7 L289.3,448.2 L289.6,449.7 L289.8,451.2 L290.1,452.6 L290.4,454.1 L290.6,455.6 L290.9,457.1 L291.1,458.6 L291.4,460.0 L291.6,461.5 L291.9,463.0 L292.2,464.5 L292.4,466.0 L292.7,467.4 L292.9,468.9 L293.2,470.4 L293.4,471.9 L293.7,473.3 L294.0,474.8 L294.2,476.3 L294.5,477.8 L294.8,479.3 L295.0,480.7 L295.3,482.2 L295.6,483.7 L295.9,485.1 L296.2,486.6 L296.5,488.1 L296.8,489.6 L297.1,491.0 L297.4,492.5 L297.7,494.0 L298.0,495.4 L298.4,496.9 L298.7,498.4 L299.1,499.8 L299.4,501.3 L299.8,502.7 L300.1,504.2 L300.5,505.6 L300.9,507.1 L301.3,508.5 L301.7,510.0 L302.2,511.4 L302.6,512.8 L303.1,514.3 L303.5,515.7 L304.0,517.1 L304.5,518.5 L305.0,520.0 L305.5,521.4 L306.1,522.8 L306.6,524.2 L307.2,525.5 L307.8,526.9 L308.4,528.3 L309.0,529.7 L309.7,531.0 L310.3,532.4 L311.0,533.7 L311.7,535.0 L312.5,536.3 L313.2,537.6 L314.0,538.9 L314.8,540.2 L315.6,541.4 L316.4,542.7 L317.3,543.9 L318.2,545.1 L319.1,546.3 L320.0,547.5 L321.0,548.6 L322.0,549.8 L323.0,550.9 L324.0,552.0 L325.1,553.0 L326.2,554.1 L327.3,555.1 L328.4,556.1 L329.5,557.0 L330.7,558.0 L331.9,558.8 L333.2,559.7 L334.5,560.5 L335.8,561.2 L337.1,561.9 L338.5,562.5 L339.9,563.0 L341.3,563.4 L342.8,563.8 L344.3,564.0 L345.8,564.1 L347.3,564.1 L348.8,564.0 L350.3,563.9 L351.7,563.6 L353.2,563.3 L354.7,563.0 L356.1,562.6 L357.6,562.2 L359.0,561.8 L360.5,561.4 L361.9,561.1 L363.4,560.7 L364.9,560.4 L366.3,560.2 L367.8,560.0 L369.3,559.9 L370.8,559.9 L372.3,560.1 L373.8,560.3 L375.3,560.6 L376.7,561.0 L378.1,561.6 L379.5,562.2 L380.8,562.9 L382.1,563.7 L383.3,564.5 L384.5,565.5 L385.6,566.5 L386.6,567.6 L387.5,568.8 L388.3,570.1 L389.1,571.4 L389.7,572.7 L390.3,574.1 L390.8,575.5 L391.3,576.9 L391.7,578.4 L392.0,579.8 L392.4,581.3 L392.6,582.8 L392.9,584.3 L393.1,585.7 L393.3,587.2 L393.6,588.7 L393.8,590.2 L394.0,591.7 L394.2,593.2 L394.4,594.7 L394.6,596.1 L394.8,597.6 L395.0,599.1 L395.2,600.6 L395.4,602.1 L395.6,603.6 L395.8,605.1 L396.0,606.6 L396.2,608.0 L396.3,609.5 L396.5,611.0 L396.7,612.5 L396.9,614.0 L397.1,615.5 L397.3,617.0 L397.5,618.5 L397.7,620.0 L397.8,621.4 L398.0,622.9 L398.2,624.4 L398.4,625.9 L398.6,627.4 L398.7,628.9 L398.9,630.4 L399.1,631.9 L399.3,633.4 L399.4,634.9 L399.6,636.3 L399.8,637.8 L399.9,639.3 L400.1,640.8 L400.3,642.3 L400.4,643.8 L400.6,645.3 L400.8,646.8 L400.9,648.3 L401.1,649.8 L401.3,651.3 L401.4,652.8 L401.6,654.2 L401.7,655.7 L401.9,657.2 L402.1,658.7 L402.2,660.2 L402.4,661.7 L402.5,663.2 L402.7,664.7 L402.8,666.2 L403.0,667.7 L403.1,669.2 L403.3,670.7 L403.4,672.2 L403.6,673.6 L403.7,675.1 L403.9,676.6 L404.0,678.1 L404.1,679.6 L404.3,681.1 L404.4,682.6 L404.6,684.1 L404.7,685.6 L404.9,687.1 L405.0,688.6 L405.1,690.1 L405.3,691.6 L405.4,693.1 L405.5,694.6 L405.7,696.1 L405.8,697.6 L405.9,699.0 L406.1,700.5 L406.2,702.0 L406.3,703.5 L406.5,705.0 L406.6,706.5 L406.7,708.0 L406.9,709.5 L407.0,711.0 L407.1,712.5 L407.2,714.0 L407.4,715.5 L407.5,717.0 L407.6,718.5 L407.7,720.0 L407.9,721.5 L408.0,723.0 L408.1,724.5 L408.2,726.0 L408.3,727.5 L408.5,729.0 L408.6,730.5 L408.7,731.9 L408.8,733.4 L408.9,734.9 L409.0,736.4 L409.2,737.9 L409.3,739.4 L409.4,740.9 L409.5,742.4 L409.6,743.9 L409.7,745.4 L409.8,746.9 L410.0,748.4 L410.1,749.9 L410.2,751.4 L410.3,752.9 L410.4,754.4 L410.5,755.9 L410.6,757.4 L410.7,758.9 L410.8,760.4 L410.9,761.9 L411.1,763.4 L411.2,764.9 L411.3,766.4 L411.4,767.9 L411.5,769.4 L411.6,770.9 L411.7,772.4 L411.8,773.9 L411.9,775.3 L412.0,776.8 L412.1,778.3 L412.2,779.8 L412.3,781.3 L412.4,782.8 L412.5,784.3 L412.6,785.8 L412.7,787.3 L412.8,788.8 L412.9,790.3 L413.0,791.8 L413.1,793.3 L413.2,794.8 L413.3,796.3 L413.4,797.8 L413.5,799.3 L413.6,800.8 L413.7,802.3 L413.8,803.8 L413.9,805.3 L414.0,806.8 L414.1,808.3 L414.2,809.8 L414.3,811.3 L414.4,812.8 L414.5,814.3 L414.6,815.8 L414.7,817.3 L414.8,818.8 L414.9,820.3 L415.0,821.8 L415.1,823.3 L415.2,824.8 L415.3,826.3 L415.4,827.8 L415.5,829.3 L415.6,830.8 L415.7,832.2 L415.7,833.7 L415.8,835.2 L415.9,836.7 L416.0,838.2 L416.1,839.7 L416.2,841.2 L416.3,842.7 L416.4,844.2 L416.5,845.7 L416.6,847.2 L416.7,848.7 L416.8,850.2 L416.9,851.7 L417.0,853.2 L417.1,854.7 L417.2,856.2 L417.3,857.7 L417.4,859.2 L417.5,860.7 L417.6,862.2 L417.7,863.7 L417.8,865.2 L417.8,866.7 L417.9,868.2 L418.0,869.7 L418.1,871.2 L418.2,872.7 L418.3,874.2 L418.4,875.7 L418.5,877.2 L418.6,878.7 L418.7,880.2 L418.8,881.7 L418.9,883.2 L419.0,884.7 L419.1,886.2 L419.2,887.7 L419.3,889.2 L419.4,890.7 L419.5,892.1 L419.6,893.6 L419.7,895.1 L419.8,896.6 L419.9,898.1 L420.0,899.6 L420.1,901.1 L420.2,902.6 L420.3,904.1 L420.4,905.6 L420.5,907.1 L420.6,908.6 L420.7,910.1 L420.8,911.6 L420.9,913.1 L421.0,914.6 L421.1,916.1 L421.2,917.6 L421.3,919.1 L421.4,920.6 L421.5,922.1 L421.6,923.6 L421.7,925.1 L421.8,926.6 L421.9,928.1 L422.0,929.6 L422.1,931.1 L422.2,932.6 L422.3,934.1 L422.4,935.6 L422.5,937.1 L422.6,938.6 L422.7,940.1 L422.8,941.6 L422.9,943.1 L423.0,944.6 L423.1,946.1 L423.2,947.5 L423.3,949.0 L423.4,950.5 L423.5,952.0 L423.6,953.5 L423.7,955.0 L423.8,956.5 L423.9,958.0 L424.0,959.5 L424.1,961.0 L424.2,962.5 L424.4,964.0 L424.5,965.5 L424.6,967.0 L424.7,968.5 L424.8,970.0 L424.9,971.5 L425.0,973.0 L425.1,974.5 L425.2,976.0 L425.3,977.5 L425.4,979.0 L425.5,980.5 L425.6,982.0 L425.7,983.5 L425.8,985.0 L425.9,986.5 L426.0,988.0 L426.1,989.5 L426.2,991.0 L426.3,992.5 L426.4,994.0 L426.5,995.5 L426.6,997.0 L426.7,998.5 L426.8,999.9 L426.9,1001.4 L427.0,1002.9 L427.1,1004.4 L427.2,1005.9 L427.3,1007.4 L427.4,1008.9 L427.5,1010.4 L427.6,1011.9 L427.7,1013.4 L427.8,1014.9 L427.9,1016.4 L428.0,1017.9 L428.1,1019.4 L428.2,1020.9 L428.3,1022.4 L428.4,1023.9 L428.5,1025.4 L428.6,1026.9 L428.7,1028.4 L428.8,1029.9 L429.0,1031.4 L429.1,1032.9 L429.2,1034.4 L429.3,1035.9 L429.4,1037.4 L429.5,1038.9 L429.6,1040.4 L429.7,1041.9 L429.8,1043.4 L429.9,1044.9 L430.0,1046.4 L430.1,1047.9 L430.2,1049.4 L430.3,1050.9 L430.4,1052.3 L430.5,1053.8 L430.6,1055.3 L430.7,1056.8 L430.8,1058.3 L430.8,1059.8 L430.9,1061.3 L431.0,1062.8 L431.1,1064.3 L431.2,1065.8 L431.3,1067.3 L431.4,1068.8 L431.5,1070.3 L431.6,1071.8 L431.7,1073.3 L431.8,1074.8 L431.9,1076.3 L432.0,1077.8 L432.1,1079.3 L432.2,1080.8 L432.3,1082.3 L432.4,1083.8 L432.5,1085.3 L432.6,1086.8 L432.7,1088.3 L432.8,1089.8 L432.9,1091.3 L433.0,1092.8 L433.1,1094.3 L433.2,1095.8 L433.3,1097.3 L433.4,1098.8 L433.5,1100.3 L433.5,1101.8 L433.6,1103.3 L433.7,1104.8 L433.8,1106.3 L433.9,1107.8 L434.0,1109.3 L434.1,1110.8 L434.2,1112.3 L434.3,1113.7 L434.4,1115.2 L434.5,1116.7 L434.6,1118.2 L434.7,1119.7 L434.7,1121.2 L434.8,1122.7 L434.9,1124.2 L435.0,1125.7 L435.1,1127.2 L435.2,1128.7 L435.3,1130.2 L435.4,1131.7 L435.5,1133.2 L435.6,1134.7 L435.6,1136.2 L435.7,1137.7 L435.8,1139.2 L435.9,1140.7 L436.0,1142.2 L436.1,1143.7 L436.2,1145.2 L436.2,1146.7 L436.3,1148.2 L436.4,1149.7 L436.5,1151.2 L436.6,1152.7 L436.7,1154.2 L436.8,1155.7 L436.8,1157.2 L436.9,1158.7 L437.0,1160.2 L437.1,1161.7 L437.2,1163.2 L437.3,1164.7 L437.3,1166.2 L437.4,1167.7 L437.5,1169.2 L437.6,1170.7 L437.7,1172.2 L437.7,1173.7 L437.8,1175.2 L437.9,1176.7 L438.0,1178.2 L438.1,1179.7 L438.2,1181.2 L438.3,1182.7 L438.4,1184.2 L438.5,1185.7 L438.6,1187.2 L438.7,1188.7 L438.8,1190.1 L439.0,1191.6 L439.1,1193.1 L439.3,1194.6 L439.4,1196.1 L439.6,1197.6 L439.8,1199.1 L440.0,1200.6 L440.2,1202.1 L440.4,1203.6 L440.6,1205.0 L440.9,1206.5 L441.1,1208.0 L441.4,1209.5 L441.6,1211.0 L441.9,1212.4 L442.2,1213.9 L442.5,1215.4 L442.9,1216.8 L443.3,1218.3 L443.7,1219.7 L444.2,1221.1 L444.9,1222.5 L446.1,1223.0 L446.9,1221.8 L447.5,1220.4 L447.9,1218.9 L448.3,1217.5 L448.6,1216.0 L449.0,1214.6 L449.3,1213.1 L449.5,1211.6 L449.8,1210.1 L450.0,1208.7 L450.3,1207.2 L450.5,1205.7 L450.7,1204.2 L451.0,1202.7 L451.2,1201.2 L451.4,1199.8 L451.6,1198.3 L451.7,1196.8 L451.9,1195.3 L452.1,1193.8 L452.2,1192.3 L452.4,1190.8 L452.5,1189.3 L452.6,1187.8 L452.7,1186.3 L452.9,1184.8 L453.0,1183.3 L453.1,1181.8 L453.2,1180.3 L453.2,1178.8 L453.3,1177.3 L453.4,1175.8 L453.5,1174.3 L453.6,1172.8 L453.7,1171.3 L453.8,1169.8 L453.8,1168.3 L453.9,1166.8 L454.0,1165.3 L454.1,1163.8 L454.2,1162.4 L454.2,1160.9 L454.3,1159.4 L454.4,1157.9 L454.5,1156.4 L454.6,1154.9 L454.6,1153.4 L454.7,1151.9 L454.8,1150.4 L454.9,1148.9 L455.0,1147.4 L455.0,1145.9 L455.1,1144.4 L455.2,1142.9 L455.3,1141.4 L455.3,1139.9 L455.4,1138.4 L455.5,1136.9 L455.6,1135.4 L455.6,1133.9 L455.7,1132.4 L455.8,1130.9 L455.9,1129.4 L456.0,1127.9 L456.0,1126.4 L456.1,1124.9 L456.2,1123.4 L456.3,1121.9 L456.3,1120.4 L456.4,1118.9 L456.5,1117.4 L456.6,1115.9 L456.6,1114.4 L456.7,1112.9 L456.8,1111.4 L456.9,1109.9 L456.9,1108.4 L457.0,1106.9 L457.1,1105.4 L457.1,1103.9 L457.2,1102.4 L457.3,1100.9 L457.4,1099.4 L457.4,1097.9 L457.5,1096.4 L457.6,1094.9 L457.7,1093.4 L457.7,1091.9 L457.8,1090.4 L457.9,1088.9 L457.9,1087.4 L458.0,1085.9 L458.1,1084.4 L458.2,1082.9 L458.2,1081.4 L458.3,1079.9 L458.4,1078.4 L458.5,1076.9 L458.5,1075.4 L458.6,1073.9 L458.7,1072.4 L458.7,1070.9 L458.8,1069.4 L458.9,1067.9 L458.9,1066.4 L459.0,1064.9 L459.1,1063.4 L459.2,1061.9 L459.2,1060.4 L459.3,1058.9 L459.4,1057.4 L459.4,1055.9 L459.5,1054.4 L459.6,1052.9 L459.7,1051.4 L459.7,1049.9 L459.8,1048.4 L459.9,1046.9 L459.9,1045.4 L460.0,1043.9 L460.1,1042.4 L460.1,1040.9 L460.2,1039.4 L460.3,1038.0 L460.4,1036.5 L460.4,1035.0 L460.5,1033.5 L460.6,1032.0 L460.6,1030.5 L460.7,1029.0 L460.8,1027.5 L460.8,1026.0 L460.9,1024.5 L461.0,1023.0 L461.1,1021.5 L461.1,1020.0 L461.2,1018.5 L461.3,1017.0 L461.3,1015.5 L461.4,1014.0 L461.5,1012.5 L461.5,1011.0 L461.6,1009.5 L461.7,1008.0 L461.8,1006.5 L461.8,1005.0 L461.9,1003.5 L462.0,1002.0 L462.0,1000.5 L462.1,999.0 L462.2,997.5 L462.2,996.0 L462.3,994.5 L462.4,993.0 L462.4,991.5 L462.5,990.0 L462.6,988.5 L462.7,987.0 L462.7,985.5 L462.8,984.0 L462.9,982.5 L462.9,981.0 L463.0,979.5 L463.1,978.0 L463.1,976.5 L463.2,975.0 L463.3,973.5 L463.3,972.0 L463.4,970.5 L463.5,969.0 L463.5,967.5 L463.6,966.0 L463.7,964.5 L463.7,963.0 L463.8,961.5 L463.9,960.0 L463.9,958.5 L464.0,957.0 L464.1,955.5 L464.1,954.0 L464.2,952.5 L464.3,951.0 L464.3,949.5 L464.4,948.0 L464.5,946.5 L464.5,945.0 L464.6,943.5 L464.7,942.0 L464.7,940.5 L464.8,939.0 L464.9,937.5 L464.9,936.0 L465.0,934.5 L465.1,933.0 L465.1,931.5 L465.2,930.0 L465.2,928.5 L465.3,927.0 L465.4,925.5 L465.4,924.0 L465.5,922.5 L465.6,921.0 L465.6,919.5 L465.7,918.0 L465.7,916.5 L465.8,915.0 L465.9,913.5 L465.9,912.0 L466.0,910.5 L466.0,909.0 L466.1,907.5 L466.2,906.0 L466.2,904.5 L466.3,903.0 L466.3,901.5 L466.4,900.0 L466.4,898.5 L466.5,897.0 L466.6,895.5 L466.6,894.0 L466.7,892.5 L466.7,891.0 L466.8,889.5 L466.8,888.0 L466.9,886.5 L467.0,885.0 L467.0,883.5 L467.1,882.0 L467.1,880.5 L467.2,879.0 L467.2,877.5 L467.3,876.0 L467.3,874.5 L467.4,873.0 L467.4,871.5 L467.5,870.0 L467.5,868.5 L467.6,867.0 L467.7,865.5 L467.7,864.0 L467.8,862.5 L467.8,861.0 L467.9,859.5 L467.9,858.0 L468.0,856.5 L468.0,855.0 L468.1,853.5 L468.1,852.0 L468.2,850.5 L468.2,849.0 L468.3,847.5 L468.3,846.0 L468.4,844.5 L468.4,843.0 L468.5,841.5 L468.5,840.0 L468.6,838.5 L468.6,837.0 L468.7,835.5 L468.7,834.0 L468.8,832.5 L468.8,831.0 L468.9,829.5 L468.9,828.0 L469.0,826.5 L469.0,825.0 L469.1,823.5 L469.1,822.0 L469.2,820.5 L469.2,819.0 L469.3,817.5 L469.3,816.0 L469.4,814.5 L469.4,813.0 L469.5,811.5 L469.5,810.0 L469.6,808.5 L469.6,807.0 L469.7,805.5 L469.8,804.0 L469.8,802.5 L469.9,801.0 L469.9,799.5 L470.0,798.0 L470.0,796.5 L470.1,795.0 L470.1,793.5 L470.2,792.1 L470.3,790.6 L470.3,789.1 L470.4,787.6 L470.4,786.1 L470.5,784.6 L470.6,783.1 L470.6,781.6 L470.7,780.1 L470.7,778.6 L470.8,777.1 L470.9,775.6 L470.9,774.1 L471.0,772.6 L471.1,771.1 L471.1,769.6 L471.2,768.1 L471.3,766.6 L471.3,765.1 L471.4,763.6 L471.5,762.1 L471.5,760.6 L471.6,759.1 L471.7,757.6 L471.8,756.1 L471.8,754.6 L471.9,753.1 L472.0,751.6 L472.1,750.1 L472.1,748.6 L472.2,747.1 L472.3,745.6 L472.4,744.1 L472.4,742.6 L472.5,741.1 L472.6,739.6 L472.7,738.1 L472.8,736.6 L472.9,735.1 L472.9,733.6 L473.0,732.1 L473.1,730.6 L473.2,729.1 L473.3,727.6 L473.4,726.1 L473.5,724.6 L473.6,723.1 L473.7,721.6 L473.8,720.1 L473.9,718.6 L474.0,717.1 L474.0,715.6 L474.1,714.1 L474.2,712.6 L474.4,711.1 L474.5,709.6 L474.6,708.1 L474.7,706.6 L474.8,705.1 L474.9,703.6 L475.0,702.1 L475.1,700.6 L475.2,699.2 L475.3,697.7 L475.4,696.2 L475.6,694.7 L475.7,693.2 L475.8,691.7 L475.9,690.2 L476.1,688.7 L476.2,687.2 L476.3,685.7 L476.4,684.2 L476.6,682.7 L476.7,681.2 L476.8,679.7 L477.0,678.2 L477.1,676.7 L477.3,675.2 L477.4,673.7 L477.6,672.2 L477.7,670.7 L477.8,669.3 L478.0,667.8 L478.2,666.3 L478.3,664.8 L478.5,663.3 L478.6,661.8 L478.8,660.3 L479.0,658.8 L479.1,657.3 L479.3,655.8 L479.5,654.3 L479.6,652.8 L479.8,651.4 L480.0,649.9 L480.2,648.4 L480.4,646.9 L480.6,645.4 L480.7,643.9 L480.9,642.4 L481.1,640.9 L481.3,639.4 L481.5,638.0 L481.7,636.5 L481.9,635.0 L482.1,633.5 L482.4,632.0 L482.6,630.5 L482.8,629.0 L483.0,627.6 L483.2,626.1 L483.4,624.6 L483.7,623.1 L483.9,621.6 L484.1,620.1 L484.4,618.7 L484.6,617.2 L484.8,615.7 L485.1,614.2 L485.3,612.7 L485.6,611.3 L485.8,609.8 L486.1,608.3 L486.4,606.8 L486.6,605.3 L486.9,603.9 L487.1,602.4 L487.4,600.9 L487.7,599.4 L488.0,598.0 L488.2,596.5 L488.5,595.0 L488.8,593.5 L489.1,592.1 L489.4,590.6 L489.8,589.1 L490.2,587.7 L490.6,586.2 L491.0,584.8 L491.5,583.4 L492.0,582.0 L492.6,580.6 L493.3,579.3 L494.0,578.0 L494.9,576.7 L495.8,575.5 L496.8,574.4 L497.9,573.4 L499.1,572.5 L500.4,571.7 L501.7,571.0 L503.1,570.4 L504.5,569.9 L505.9,569.4 L507.3,569.0 L508.8,568.6 L510.3,568.3 L511.7,568.0 L513.2,567.8 L514.7,567.6 L516.2,567.4 L517.7,567.2 L519.2,567.0 L520.7,566.9 L522.2,566.7 L523.7,566.6 L525.2,566.5 L526.6,566.4 L528.1,566.3 L529.6,566.2 L531.1,566.1 L532.6,566.0 L534.1,566.0 L535.6,565.9 L537.1,565.8 L538.6,565.8 L540.1,565.8 L541.6,565.8 L543.1,565.7 L544.6,565.7 L546.1,565.7 L547.6,565.7 L549.1,565.7 L550.6,565.8 L552.1,565.8 L553.6,565.8 L555.1,565.9 L556.6,565.9 L558.1,565.9 L559.6,566.0 L561.1,566.1 L562.6,566.1 L564.1,566.2 L565.6,566.3 L567.1,566.3 L568.6,566.4 L570.1,566.5 L571.6,566.6 L573.1,566.7 L574.6,566.8 L576.1,566.9 L577.6,566.9 L579.1,567.0 L580.6,567.1 L582.1,567.2 L583.6,567.3 L585.1,567.4 L586.6,567.5 L588.1,567.6 L589.6,567.7 L591.1,567.8 L592.6,567.9 L594.1,568.0 L595.6,568.1 L597.1,568.2 L598.6,568.3 L600.1,568.4 L601.6,568.5 L603.1,568.6 L604.6,568.7 L606.1,568.8 L607.6,568.8 L609.1,568.9 L610.6,569.0 L612.1,569.0 L613.6,569.1 L615.1,569.1 L616.6,569.2 L618.1,569.2 L619.6,569.3 L621.1,569.3 L622.6,569.4 L624.1,569.4 L625.6,569.4 L627.1,569.5 L628.6,569.5 L630.1,569.5 L631.6,569.5 L633.1,569.5 L634.6,569.6 L636.1,569.6 L637.6,569.6 L639.1,569.6 L640.6,569.6 L642.1,569.6 L643.6,569.6 L645.1,569.7 L646.6,569.7 L648.1,569.7 L649.6,569.7 L651.1,569.7 L652.6,569.7 L654.1,569.7 L655.6,569.8 L657.1,569.8 L658.6,569.8 L660.1,569.8 L661.6,569.8 L663.1,569.9 L664.6,569.9 L666.1,569.9 L667.6,569.9 L669.1,570.0 L670.6,570.0 L672.1,570.1 L673.6,570.1 L675.1,570.1 L676.6,570.2 L678.1,570.2 L679.6,570.3 L681.1,570.4 L682.6,570.4 L684.1,570.5 L685.6,570.5 L687.1,570.6 L688.6,570.6 L690.1,570.7 L691.6,570.7 L693.1,570.8 L694.6,570.8 L696.1,570.9 L697.6,570.9 L699.1,570.9 L700.6,570.9 L702.1,570.9 L703.6,570.9 L705.1,570.9 L706.6,570.9 L708.1,570.8 L709.6,570.7 L711.1,570.7 L712.6,570.6 L714.1,570.5 L715.6,570.4 L717.1,570.2 L718.6,570.1 L720.1,569.9 L721.5,569.7 L723.0,569.5 L724.5,569.2 L726.0,568.9 L727.5,568.7 L728.9,568.3 L730.4,568.0 L731.8,567.6 L733.3,567.2 L734.7,566.8 L736.1,566.3 L737.6,565.8 L739.0,565.3 L740.4,564.7 L741.7,564.1 L743.1,563.5 L744.4,562.8 L745.8,562.2 L747.1,561.4 L748.4,560.7 L749.7,559.9 L750.9,559.1 L752.2,558.2 L753.4,557.4 L754.6,556.5 L755.8,555.6 L757.0,554.7 L758.2,553.8 L759.4,552.9 L760.6,552.0 L761.8,551.1 L763.0,550.2 L764.2,549.3 L765.4,548.4 L766.6,547.5 L767.9,546.6 L769.1,545.8 L770.4,545.0 L771.6,544.2 L772.9,543.4 L774.2,542.7 L775.6,542.0 L776.9,541.4 L778.3,540.8 L779.7,540.3 L781.1,539.8 L782.6,539.4 L784.1,539.1 L785.5,538.8 L787.0,538.6 L788.5,538.5 L790.0,538.4 L791.5,538.4 L793.0,538.4 L794.5,538.4 L796.0,538.5 L797.5,538.6 L799.0,538.7 L800.5,538.8 L802.0,539.0 L803.5,539.1 L805.0,539.2 L806.5,539.4 L808.0,539.5 L809.5,539.6 L811.0,539.6 L812.5,539.7 L814.0,539.7 L815.5,539.7 L817.0,539.6 L818.5,539.4 L820.0,539.2 L821.4,538.9 L822.9,538.6 L824.3,538.1 L825.7,537.6 L827.1,537.0 L828.4,536.3 L829.7,535.5 L831.0,534.7 L832.2,533.8 L833.4,532.9 L834.5,532.0 L835.7,531.0 L836.8,530.0 L837.9,529.0 L839.0,528.0 L840.1,527.0 L841.2,525.9 L842.3,524.9 L843.4,523.9 L844.5,522.8 L845.6,521.8 L846.7,520.8 L847.9,519.9 L849.0,518.9 L850.2,518.0 L851.5,517.1 L852.7,516.4 L854.0,515.6 L855.4,515.0 L856.8,514.5 L858.3,514.1 L859.8,513.9 L861.2,513.8 L862.7,513.9 L864.2,514.1 L865.7,514.4 L867.2,514.8 L868.6,515.3 L870.0,515.8 L871.3,516.4 L872.7,517.1 L874.0,517.8 L875.3,518.6 L876.5,519.4 L877.8,520.2 L879.0,521.1 L880.3,521.9 L881.5,522.8 L882.7,523.7 L883.9,524.6 L885.1,525.5 L886.2,526.5 L887.4,527.4 L888.6,528.3 L889.8,529.3 L890.9,530.2 L892.1,531.1 L893.3,532.0 L894.5,533.0 L895.7,533.9 L896.9,534.7 L898.1,535.6 L899.3,536.5 L900.6,537.4 L901.8,538.2 L903.1,539.0 L904.3,539.9 L905.6,540.7 L906.8,541.5 L908.1,542.3 L909.4,543.0 L910.7,543.8 L912.0,544.5 L913.3,545.3 L914.6,546.0 L916.0,546.7 L917.3,547.4 L918.6,548.0 L920.0,548.7 L921.4,549.3 L922.7,549.9 L924.1,550.5 L925.5,551.1 L926.9,551.7 L928.3,552.2 L929.7,552.8 L931.1,553.3 L932.5,553.8 L933.9,554.3 L935.4,554.7 L936.8,555.1 L938.2,555.6 L939.7,556.0 L941.1,556.3 L942.6,556.7 L944.0,557.0 L945.5,557.4 L947.0,557.7 L948.5,558.0 L949.9,558.2 L951.4,558.5 L952.9,558.7 L954.4,558.9 L955.9,559.1 L957.4,559.3 L958.8,559.5 L960.3,559.6 L961.8,559.8 L963.3,559.9 L964.8,560.0 L966.3,560.1 L967.8,560.2 L969.3,560.3 L970.8,560.3 L972.3,560.4 L973.8,560.4 L975.3,560.5 L976.8,560.5 L978.3,560.5 L979.8,560.5 L981.3,560.5 L982.8,560.5 L984.3,560.4 L985.8,560.4 L987.3,560.4 L988.8,560.3 L990.3,560.2 L991.8,560.2 L993.3,560.1 L994.8,560.0 L996.3,560.0 L997.8,559.9 L999.3,559.8 L1000.8,559.7 L1002.3,559.6 L1003.8,559.5 L1005.3,559.4 L1006.8,559.2 L1008.3,559.1 L1009.8,559.0 L1011.3,558.9 L1012.8,558.7 L1014.3,558.6 L1015.8,558.5 L1017.3,558.3 L1018.8,558.2 L1020.3,558.1 L1021.7,557.9 L1023.2,557.8 L1024.7,557.7 L1026.2,557.5 L1027.7,557.4 L1029.2,557.2 L1030.7,557.1 L1032.2,557.0 L1033.7,556.8 L1035.2,556.7 L1036.7,556.5 L1038.2,556.4 L1039.7,556.3 L1041.2,556.1 L1042.7,556.0 L1044.2,555.8 L1045.7,555.7 L1047.1,555.6 L1048.6,555.4 L1050.1,555.3 L1051.6,555.1 L1053.1,555.0 L1054.6,554.9 L1056.1,554.7 L1057.6,554.6 L1059.1,554.5 L1060.6,554.3 L1062.1,554.2 L1063.6,554.1 L1065.1,553.9 L1066.6,553.8 L1068.1,553.6 L1069.6,553.5 L1071.1,553.4 L1072.6,553.2 L1074.0,553.1 L1075.5,553.0 L1077.0,552.9 L1078.5,552.7 L1080.0,552.6 L1081.5,552.5 L1083.0,552.3 L1084.5,552.2 L1086.0,552.1 L1087.5,551.9 L1089.0,551.8 L1090.5,551.7 L1092.0,551.6 L1093.5,551.4 L1095.0,551.3 L1096.5,551.2 L1098.0,551.0 L1099.5,550.9 L1101.0,550.8 L1102.5,550.6 L1103.9,550.5 L1105.4,550.3 L1106.9,550.2 L1108.4,550.0 L1109.9,549.9 L1111.4,549.7 L1112.9,549.6 L1114.4,549.4 L1115.9,549.2 L1117.4,549.0 L1118.9,548.8 L1120.3,548.6 L1121.8,548.4 L1123.3,548.2 L1124.8,548.0 L1126.3,547.8 L1127.8,547.6 L1129.3,547.3 L1130.7,547.1 L1132.2,546.9 L1133.7,546.7 L1135.2,546.5 L1136.7,546.2 L1138.2,546.1 L1139.7,545.9 L1141.2,545.7 L1142.6,545.6 L1144.1,545.4 L1145.6,545.3 L1147.1,545.3 L1148.6,545.2 L1150.1,545.2 L1151.6,545.2 L1153.1,545.2 L1154.6,545.3 L1156.1,545.4 L1157.6,545.5 L1159.1,545.7 L1160.6,545.9 L1162.1,546.1 L1163.6,546.3 L1165.1,546.6 L1166.5,546.9 L1168.0,547.2 L1169.5,547.5 L1170.9,547.8 L1172.4,548.2 L1173.8,548.6 L1175.3,549.0 L1176.7,549.4 L1178.2,549.8 L1179.6,550.3 L1181.0,550.7 L1182.4,551.2 L1183.9,551.7 L1185.3,552.2 L1186.7,552.7 L1188.1,553.2 L1189.5,553.8 L1190.9,554.3 L1192.3,554.8 L1193.7,555.4 L1195.1,556.0 L1196.5,556.5 L1197.8,557.1 L1199.2,557.7 L1200.6,558.3 L1202.0,558.9 L1203.4,559.5 L1204.7,560.1 L1206.1,560.7 L1207.5,561.4 L1208.8,562.0 L1210.2,562.6 L1211.6,563.2 L1212.9,563.9 L1214.3,564.5 L1215.6,565.1 L1217.0,565.8 L1218.4,566.4 L1219.7,567.0 L1221.1,567.7 L1222.4,568.3 L1223.8,569.0 L1225.1,569.6 L1226.5,570.3 L1227.8,571.0 L1229.2,571.6 L1230.5,572.3 L1231.9,572.9 L1233.2,573.6 L1234.6,574.3 L1235.9,574.9 L1237.2,575.6 L1238.6,576.3 L1239.9,576.9 L1241.3,577.6 L1242.6,578.3 L1244.0,578.9 L1245.3,579.6 L1246.6,580.3 L1248.0,580.9 L1249.3,581.6 L1250.7,582.3 L1252.0,582.9 L1253.4,583.6 L1254.7,584.3 L1256.1,584.9 L1257.4,585.6 L1258.8,586.2 L1260.1,586.9 L1261.5,587.6 L1262.8,588.2 L1264.2,588.9 L1265.5,589.5 L1266.9,590.2 L1268.2,590.8 L1269.6,591.4 L1270.9,592.1 L1272.3,592.7 L1273.7,593.3 L1275.0,594.0 L1276.4,594.6 L1277.8,595.2 L1279.1,595.8 L1280.5,596.5 L1281.9,597.1 L1283.2,597.7 L1284.6,598.3 L1286.0,598.9 L1287.4,599.5 L1288.7,600.1 L1290.1,600.6 L1291.5,601.2 L1292.9,601.8 L1294.3,602.3 L1295.7,602.8 L1297.1,603.3 L1298.6,603.8 L1300.0,604.2 L1301.4,604.7 L1302.9,605.1 L1304.3,605.4 L1305.8,605.8 L1307.3,606.1 L1308.7,606.3 L1310.2,606.5 L1311.7,606.7 L1313.2,606.8 L1314.7,606.9 L1316.2,606.9 L1317.7,606.8 L1319.2,606.7 L1320.7,606.5 L1322.2,606.2 L1323.6,605.9 L1325.1,605.5 L1326.5,605.0 L1327.9,604.5 L1329.3,603.9 L1330.6,603.3 L1332.0,602.6 L1333.3,601.8 L1334.6,601.1 L1335.8,600.3 L1337.1,599.4 L1338.3,598.5 L1339.5,597.6 L1340.7,596.7 L1341.8,595.7 L1342.9,594.8 L1344.1,593.7 L1345.2,592.7 L1346.3,591.7 L1347.3,590.6 L1348.4,589.6 L1349.4,588.5 L1350.4,587.4 L1351.4,586.3 L1352.4,585.2 L1353.4,584.0 L1354.4,582.9 L1355.4,581.8 L1356.3,580.6 L1357.3,579.4 L1358.2,578.3 L1359.2,577.1 L1360.1,575.9 L1361.0,574.7 L1362.0,573.6 L1362.9,572.4 L1363.8,571.2 L1364.7,570.0 L1365.6,568.8 L1366.5,567.6 L1367.4,566.4 L1368.3,565.2 L1369.2,564.0 L1370.1,562.8 L1371.0,561.6 L1371.9,560.4 L1372.9,559.2 L1373.8,558.1 L1374.7,556.9 L1375.7,555.7 L1376.6,554.5 L1377.6,553.4 L1378.5,552.2 L1379.5,551.1 L1380.5,550.0 L1381.5,548.9 L1382.5,547.8 L1383.6,546.7 L1384.6,545.6 L1385.7,544.5 L1386.8,543.5 L1387.9,542.5 L1389.0,541.5 L1390.1,540.5 L1391.3,539.5 L1392.4,538.6 L1393.6,537.7 L1394.8,536.8 L1396.0,535.9 L1397.3,535.0 L1398.5,534.2 L1399.8,533.4 L1401.1,532.6 L1402.4,531.9 L1403.7,531.1 L1405.0,530.4 L1406.3,529.6 L1407.6,528.9 L1408.9,528.2 L1410.3,527.5 L1411.6,526.8 L1412.9,526.2 L1414.3,525.5 L1415.6,524.8 L1417.0,524.2 L1418.3,523.5 L1419.7,522.9 L1421.0,522.2 L1422.4,521.6 L1423.7,520.9 L1425.1,520.3 L1426.4,519.6 L1427.8,519.0 L1429.1,518.3 L1430.5,517.6 L1431.8,517.0 L1433.2,516.3 L1434.5,515.6 L1435.8,514.9 L1437.2,514.3 L1438.5,513.6 L1439.8,512.9 L1441.2,512.2 L1442.5,511.5 L1443.8,510.8 L1445.2,510.1 L1446.5,509.4 L1447.8,508.7 L1449.1,508.0 L1450.4,507.2 L1451.7,506.5 L1453.1,505.8 L1454.4,505.0 L1455.7,504.3 L1457.0,503.5 L1458.3,502.8 L1459.5,502.0 L1460.8,501.3 L1462.1,500.5 L1463.4,499.7 L1464.7,498.9 L1466.0,498.1 L1467.2,497.3 L1468.5,496.5 L1469.7,495.7 L1471.0,494.8 L1472.2,494.0 L1473.5,493.1 L1474.7,492.3 L1475.9,491.4 L1477.1,490.5 L1478.3,489.6 L1479.5,488.7 L1480.7,487.8 L1481.8,486.8 L1483.0,485.9 L1484.1,484.9 L1485.3,483.9 L1486.4,482.9 L1487.5,481.9 L1488.6,480.8 L1489.6,479.8 L1490.7,478.7 L1491.7,477.6 L1492.7,476.5 L1493.7,475.4 L1494.7,474.2 L1495.6,473.1 L1496.5,471.9 L1497.4,470.7 L1498.3,469.4 L1499.1,468.2 L1500.0,466.9 L1500.8,465.7 L1501.6,464.4 L1502.3,463.1 L1503.1,461.8 L1503.8,460.5 L1504.5,459.2 L1505.2,457.8 L1505.9,456.5 L1506.6,455.2 L1507.3,453.8 L1508.0,452.5 L1508.6,451.2 L1509.3,449.8 L1510.0,448.5 L1510.6,447.1 L1511.3,445.8 L1512.0,444.5 L1512.7,443.1 L1513.4,441.8 L1514.1,440.5 L1514.8,439.2 L1515.5,437.8 L1516.3,436.5 L1517.0,435.3 L1517.8,434.0 L1518.6,432.7 L1519.4,431.4 L1520.3,430.2 L1521.2,429.0 L1522.1,427.8 L1523.0,426.6 L1523.9,425.4 L1524.8,424.2 L1525.8,423.1 L1526.8,421.9 L1527.7,420.8 L1528.7,419.7 L1529.8,418.6 L1530.8,417.5 L1531.8,416.4 L1532.9,415.3 L1533.9,414.3 L1535.0,413.2 L1536.1,412.2 L1537.2,411.1 L1538.2,410.1 L1539.3,409.1 L1540.4,408.0 L1541.5,407.0 L1542.7,406.0 L1543.8,405.0 L1544.9,404.0 L1546.0,403.0 L1547.1,402.0 L1548.3,401.0 L1549.4,400.0 L1550.5,399.0 L1551.6,398.0 L1552.8,397.1 L1553.9,396.1 L1555.0,395.1 L1556.1,394.1 L1557.2,393.1 L1558.3,392.0 L1559.5,391.0 L1560.6,390.0 L1561.7,389.0 L1562.8,388.0 L1563.9,387.0 L1565.0,386.0 L1566.1,384.9 L1567.2,383.9 L1568.3,382.9 L1569.4,381.9 L1570.5,380.8 L1571.5,379.8 L1572.6,378.8 L1573.7,377.7 L1574.8,376.7 L1575.9,375.6 L1577.0,374.6 L1578.0,373.6 L1579.1,372.5 L1580.2,371.5 L1581.3,370.4 L1582.3,369.4 L1583.4,368.3 L1584.5,367.3 L1585.6,366.2 L1586.6,365.2 L1587.7,364.1 L1588.8,363.1 L1589.8,362.0 L1590.9,360.9 L1591.9,359.9 L1593.0,358.8 L1594.1,357.8 L1595.1,356.7 L1596.2,355.6 L1597.2,354.6 L1598.3,353.5 L1599.4,352.4 L1600.4,351.4 L1601.5,350.3 L1602.5,349.2 L1603.6,348.2 L1604.6,347.1 L1605.7,346.0 L1606.8,345.0 L1607.8,343.9 L1608.9,342.8 L1609.9,341.8 L1611.0,340.7 L1612.0,339.6 L1613.1,338.6 L1614.1,337.5 L1615.2,336.4 L1616.2,335.4 L1617.3,334.3 L1618.3,333.2 L1619.4,332.1 L1620.4,331.1 L1621.5,330.0 L1622.5,328.9 L1623.6,327.9 L1624.7,326.8 L1625.7,325.7 L1626.8,324.7 L1627.8,323.6 L1628.9,322.5 L1629.9,321.5 L1631.0,320.4 L1632.1,319.4 L1633.1,318.3 L1634.2,317.2 L1635.2,316.2 L1636.3,315.1 L1637.4,314.1 L1638.4,313.0 L1639.5,311.9 L1640.6,310.9 L1641.6,309.8 L1642.7,308.8 L1643.8,307.7 L1644.8,306.6 L1645.9,305.6 L1646.9,304.5 L1648.0,303.5 L1649.1,302.4 L1650.1,301.4 L1651.2,300.3 L1652.3,299.2 L1653.3,298.2 L1654.4,297.1 L1655.5,296.1 L1656.5,295.0 L1657.6,293.9 L1658.6,292.9 L1659.7,291.8 L1660.8,290.8 L1661.8,289.7 L1662.9,288.6 L1663.9,287.6 L1665.0,286.5 L1666.0,285.4 L1667.1,284.4 L1668.1,283.3 L1669.2,282.2 L1670.2,281.1 L1671.3,280.1 L1672.3,279.0 L1673.4,277.9 L1674.4,276.8 L1675.5,275.7 L1676.5,274.7 L1677.5,273.6 L1678.6,272.5 L1679.6,271.4 L1680.6,270.3 L1681.7,269.2 L1682.7,268.1 L1683.7,267.0 L1684.7,265.9 L1685.8,264.8 L1686.8,263.7 L1687.8,262.6 L1688.8,261.5 L1689.8,260.4 L1690.8,259.3 L1691.8,258.2 L1692.8,257.1 L1693.8,255.9 L1694.8,254.8 L1695.8,253.7 L1696.8,252.5 L1697.8,251.4 L1698.8,250.3 L1699.7,249.1 L1700.7,248.0 L1701.7,246.9 L1702.6,245.7 L1703.6,244.6 L1704.6,243.4 L1705.5,242.3 L1706.5,241.1 L1707.4,239.9 L1708.4,238.8 L1709.3,237.6 L1710.3,236.4 L1711.2,235.3 L1712.1,234.1 L1713.1,232.9 L1714.0,231.8 L1715.0,230.6 L1716.0,229.5 L1716.9,228.3 L1717.9,227.2 L1718.9,226.1 L1719.9,224.9 L1720.9,223.8 L1722.0,222.8 L1723.0,221.7 L1724.1,220.7 L1725.2,219.6 L1726.3,218.6 L1727.5,217.6 L1728.6,216.7 L1729.8,215.8 L1731.0,214.9 L1732.3,214.0 L1733.5,213.2 L1734.8,212.4 L1736.1,211.6 L1737.4,210.9 L1738.7,210.2 L1740.0,209.4 L1741.3,208.7 L1742.6,208.0 L1744.0,207.3 L1745.3,206.7 L1746.6,206.0 L1748.0,205.3 L1749.3,204.6 L1750.6,203.9 L1752.0,203.2 L1753.3,202.5 L1754.6,201.8 L1756.0,201.1 L1757.3,200.4 L1758.6,199.8 L1760.0,199.1 L1761.3,198.4 L1762.6,197.7 L1764.0,197.1 L1765.4,196.4 L1766.7,195.8 L1768.1,195.2 L1769.5,194.6 L1770.8,194.0 L1772.2,193.4 L1773.6,192.9 L1775.0,192.4 L1776.5,191.9 L1777.9,191.5 L1779.4,191.1 L1780.8,190.7 L1782.3,190.4 L1783.7,190.1 L1785.2,189.9 L1786.7,189.7 L1788.2,189.6 L1789.7,189.5 L1791.2,189.5 L1792.7,189.6 L1794.2,189.7 L1795.7,189.8 L1797.2,190.0 L1798.7,190.3 L1800.1,190.5 L1801.6,190.9 L1803.1,191.3 L1804.5,191.7 L1805.9,192.1 L1807.3,192.6 L1808.8,193.1 L1810.1,193.7 L1811.5,194.3 L1812.9,194.9 L1814.3,195.5 L1815.6,196.2 L1816.9,196.9 L1818.2,197.6 L1819.5,198.4 L1820.8,199.1 L1822.1,199.9 L1823.4,200.7 L1824.6,201.5 L1825.9,202.4 L1827.1,203.3 L1828.3,204.1 L1829.5,205.0 L1830.7,205.9 L1831.9,206.9 L1833.1,207.8 L1834.2,208.8 L1835.4,209.8 L1836.5,210.8 L1837.6,211.8 L1838.7,212.8 L1839.8,213.8 L1840.8,214.9 L1841.9,215.9 L1842.9,217.0 L1844.0,218.1 L1845.0,219.2 L1846.0,220.3 L1847.0,221.5 L1847.9,222.6 L1848.9,223.8 L1849.9,224.9 L1850.8,226.1 L1851.7,227.3 L1852.6,228.5 L1853.5,229.7 L1854.4,230.9 L1855.3,232.1 L1856.2,233.3 L1857.0,234.5 L1857.9,235.8 L1858.7,237.0 L1859.5,238.3 L1860.3,239.5 L1861.1,240.8 L1861.9,242.1 L1862.7,243.4 L1863.5,244.7 L1864.3,245.9 L1865.0,247.2 L1865.8,248.5 L1866.5,249.8 L1867.3,251.1 L1868.0,252.4 L1868.8,253.7 L1869.6,255.0 L1870.3,256.3 L1871.1,257.6 L1871.9,258.9 L1872.7,260.1 L1873.5,261.4 L1874.3,262.7 L1875.1,263.9 L1875.9,265.2 L1876.8,266.4 L1877.7,267.6 L1878.6,268.8 L1879.5,270.0 L1880.4,271.2 L1881.4,272.3 L1882.4,273.5 L1883.4,274.6 L1884.5,275.6 L1885.5,276.7 L1886.7,277.7 L1887.8,278.7 L1889.0,279.6 L1890.2,280.5 L1891.4,281.3 L1892.7,282.1 L1894.0,282.9 L1895.3,283.6 L1896.7,284.2 L1898.0,284.8 L1899.4,285.4 L1900.9,285.8 L1902.3,286.3 L1903.8,286.6 L1905.2,286.9 L1906.7,287.2 L1908.2,287.3 L1909.7,287.4 L1911.2,287.5 L1912.7,287.4 L1914.2,287.2 L1915.7,287.0 L1917.1,286.6 L1918.5,286.1 L1919.9,285.4 L1921.2,284.7 L1922.4,283.9 L1923.6,282.9 L1924.8,282.0 L1925.8,280.9 L1926.9,279.9 L1927.9,278.8 L1928.9,277.7 L1929.9,276.5 L1930.9,275.4 L1931.9,274.3 L1932.9,273.2 L1933.9,272.1 L1935.0,271.0 L1936.0,269.9 L1937.1,268.9 L1938.2,267.9 L1939.4,266.9 L1940.6,266.0 L1941.8,265.1 L1943.0,264.3 L1944.3,263.5 L1945.6,262.8 L1947.0,262.1 L1948.3,261.5 L1949.7,260.9 L1951.2,260.5 L1952.6,260.2 L1954.1,259.9 L1955.6,259.8 L1957.1,259.8 L1958.6,260.0 L1960.1,260.3 L1961.5,260.8 L1962.9,261.4 L1964.2,262.1 L1965.5,262.9 L1966.7,263.7 L1967.9,264.7 L1969.0,265.6 L1970.1,266.6 L1971.2,267.7 L1972.2,268.8 L1973.3,269.9 L1974.2,271.0 L1975.2,272.2 L1976.2,273.3 L1977.1,274.5 L1978.0,275.7 L1978.9,276.9 L1979.8,278.1 L1980.6,279.4 L1981.5,280.6 L1982.3,281.9 L1983.1,283.1 L1983.9,284.4 L1984.7,285.7 L1985.4,287.0 L1986.2,288.3 L1986.9,289.6 L1987.6,290.9 L1988.3,292.2 L1989.0,293.6 L1989.7,294.9 L1990.4,296.3 L1991.0,297.6 L1991.7,299.0 L1992.3,300.3 L1992.9,301.7 L1993.5,303.1 L1994.1,304.4 L1994.7,305.8 L1995.3,307.2 L1995.9,308.6 L1996.4,310.0 L1997.0,311.4 L1997.6,312.7 L1998.1,314.1 L1998.7,315.5 L1999.2,316.9 L1999.8,318.3 L2000.3,319.7 L2000.8,321.1 L2001.3,322.5 L2001.9,324.0 L2002.4,325.4 L2002.9,326.8 L2003.4,328.2 L2003.9,329.6 L2004.4,331.0 L2005.0,332.4 L2005.5,333.8 L2006.0,335.2 L2006.4,336.7 L2006.9,338.1 L2007.4,339.5 L2007.9,340.9 L2008.4,342.3 L2008.9,343.8 L2009.3,345.2 L2009.8,346.6 L2010.3,348.0 L2010.8,349.5 L2011.2,350.9 L2011.7,352.3 L2012.1,353.7 L2012.6,355.2 L2013.0,356.6 L2013.5,358.0 L2013.9,359.5 L2014.4,360.9 L2014.8,362.3 L2015.2,363.8 L2015.7,365.2 L2016.1,366.7 L2016.5,368.1 L2017.0,369.5 L2017.4,371.0 L2017.8,372.4 L2018.2,373.9 L2018.6,375.3 L2019.0,376.7 L2019.4,378.2 L2019.8,379.6 L2020.2,381.1 L2020.6,382.5 L2021.0,384.0 L2021.4,385.4 L2021.8,386.9 L2022.2,388.3 L2022.6,389.8 L2022.9,391.2 L2023.3,392.7 L2023.7,394.1 L2024.1,395.6 L2024.4,397.0 L2024.8,398.5 L2025.2,400.0 L2025.5,401.4 L2025.9,402.9 L2026.2,404.3 L2026.6,405.8 L2027.0,407.2 L2027.3,408.7 L2027.6,410.2 L2028.0,411.6 L2028.3,413.1 L2028.7,414.5 L2029.0,416.0 L2029.3,417.5 L2029.7,418.9 L2030.0,420.4 L2030.3,421.9 L2030.6,423.3 L2031.0,424.8 L2031.3,426.3 L2031.6,427.7 L2031.9,429.2 L2032.2,430.7 L2032.5,432.1 L2032.8,433.6 L2033.2,435.1 L2033.5,436.5 L2033.8,438.0 L2034.1,439.5 L2034.4,441.0 L2034.6,442.4 L2034.9,443.9 L2035.2,445.4 L2035.5,446.8 L2035.8,448.3 L2036.1,449.8 L2036.4,451.3 L2036.6,452.7 L2036.9,454.2 L2037.2,455.7 L2037.5,457.2 L2037.7,458.6 L2038.0,460.1 L2038.3,461.6 L2038.5,463.1 L2038.8,464.5 L2039.1,466.0 L2039.3,467.5 L2039.6,469.0 L2039.8,470.5 L2040.1,471.9 L2040.4,473.4 L2040.6,474.9 L2040.9,476.4 L2041.1,477.9 L2041.4,479.3 L2041.6,480.8 L2041.8,482.3 L2042.1,483.8 L2042.3,485.3 L2042.6,486.7 L2042.8,488.2 L2043.0,489.7 L2043.3,491.2 L2043.5,492.7 L2043.7,494.2 L2043.9,495.6 L2044.2,497.1 L2044.4,498.6 L2044.6,500.1 L2044.8,501.6 L2045.1,503.1 L2045.3,504.5 L2045.5,506.0 L2045.7,507.5 L2045.9,509.0 L2046.1,510.5 L2046.4,512.0 L2046.6,513.4 L2046.8,514.9 L2047.0,516.4 L2047.2,517.9 L2047.4,519.4 L2047.6,520.9 L2047.8,522.4 L2048.0,523.9 L2048.2,525.3 L2048.4,526.8 L2048.6,528.3 L2048.8,529.8 L2049.0,531.3 L2049.2,532.8 L2049.4,534.3 L2049.6,535.8 L2049.8,537.2 L2050.0,538.7 L2050.2,540.2 L2050.3,541.7 L2050.5,543.2 L2050.7,544.7 L2050.9,546.2 L2051.1,547.7 L2051.3,549.2 L2051.5,550.6 L2051.6,552.1 L2051.8,553.6 L2052.0,555.1 L2052.2,556.6 L2052.4,558.1 L2052.5,559.6 L2052.7,561.1 L2052.9,562.6 L2053.1,564.1 L2053.2,565.5 L2053.4,567.0 L2053.6,568.5 L2053.8,570.0 L2053.9,571.5 L2054.1,573.0 L2054.3,574.5 L2054.4,576.0 L2054.6,577.5 L2054.8,579.0 L2055.0,580.5 L2055.1,581.9 L2055.3,583.4 L2055.5,584.9 L2055.6,586.4 L2055.8,587.9 L2056.0,589.4 L2056.1,590.9 L2056.3,592.4 L2056.5,593.9 L2056.6,595.4 L2056.8,596.9 L2056.9,598.3 L2057.1,599.8 L2057.3,601.3 L2057.4,602.8 L2057.6,604.3 L2057.8,605.8 L2057.9,607.3 L2058.1,608.8 L2058.2,610.3 L2058.4,611.8 L2058.6,613.3 L2058.7,614.8 L2058.9,616.3 L2059.1,617.7 L2059.2,619.2 L2059.4,620.7 L2059.5,622.2 L2059.7,623.7 L2059.9,625.2 L2060.0,626.7 L2060.2,628.2 L2060.3,629.7 L2060.5,631.2 L2060.7,632.7 L2060.8,634.2 L2061.0,635.6 L2061.1,637.1 L2061.3,638.6 L2061.5,640.1 L2061.6,641.6 L2061.8,643.1 L2061.9,644.6 L2062.1,646.1 L2062.3,647.6 L2062.4,649.1 L2062.6,650.6 L2062.7,652.1 L2062.9,653.6 L2063.0,655.0 L2063.2,656.5 L2063.4,658.0 L2063.5,659.5 L2063.7,661.0 L2063.8,662.5 L2064.0,664.0 L2064.2,665.5 L2064.3,667.0 L2064.5,668.5 L2064.6,670.0 L2064.8,671.5 L2064.9,673.0 L2065.1,674.4 L2065.2,675.9 L2065.4,677.4 L2065.6,678.9 L2065.7,680.4 L2065.9,681.9 L2066.0,683.4 L2066.2,684.9 L2066.3,686.4 L2066.5,687.9 L2066.6,689.4 L2066.8,690.9 L2066.9,692.4 L2067.1,693.9 L2067.2,695.3 L2067.4,696.8 L2067.5,698.3 L2067.7,699.8 L2067.8,701.3 L2068.0,702.8 L2068.1,704.3 L2068.3,705.8 L2068.4,707.3 L2068.6,708.8 L2068.7,710.3 L2068.9,711.8 L2069.0,713.3 L2069.2,714.8 L2069.3,716.3 L2069.5,717.7 L2069.6,719.2 L2069.8,720.7 L2069.9,722.2 L2070.0,723.7 L2070.2,725.2 L2070.3,726.7 L2070.5,728.2 L2070.6,729.7 L2070.8,731.2 L2070.9,732.7 L2071.0,734.2 L2071.2,735.7 L2071.3,737.2 L2071.5,738.7 L2071.6,740.2 L2071.7,741.6 L2071.9,743.1 L2072.0,744.6 L2072.1,746.1 L2072.3,747.6 L2072.4,749.1 L2072.5,750.6 L2072.7,752.1 L2072.8,753.6 L2072.9,755.1 L2073.1,756.6 L2073.2,758.1 L2073.3,759.6 L2073.5,761.1 L2073.6,762.6 L2073.7,764.1 L2073.8,765.6 L2074.0,767.1 L2074.1,768.6 L2074.2,770.1 L2074.3,771.5 L2074.5,773.0 L2074.6,774.5 L2074.7,776.0 L2074.8,777.5 L2075.0,779.0 L2075.1,780.5 L2075.2,782.0 L2075.3,783.5 L2075.4,785.0 L2075.5,786.5 L2075.7,788.0 L2075.8,789.5 L2075.9,791.0 L2076.0,792.5 L2076.1,794.0 L2076.2,795.5 L2076.3,797.0 L2076.5,798.5 L2076.6,800.0 L2076.7,801.5 L2076.8,803.0 L2076.9,804.5 L2077.0,806.0 L2077.1,807.5 L2077.2,809.0 L2077.3,810.4 L2077.4,811.9 L2077.5,813.4 L2077.6,814.9 L2077.7,816.4 L2077.8,817.9 L2077.9,819.4 L2078.0,820.9 L2078.1,822.4 L2078.2,823.9 L2078.3,825.4 L2078.4,826.9 L2078.5,828.4 L2078.6,829.9 L2078.7,831.4 L2078.8,832.9 L2078.8,834.4 L2078.9,835.9 L2079.0,837.4 L2079.1,838.9 L2079.2,840.4 L2079.3,841.9 L2079.4,843.4 L2079.4,844.9 L2079.5,846.4 L2079.6,847.9 L2079.7,849.4 L2079.8,850.9 L2079.8,852.4 L2079.9,853.9 L2080.0,855.4 L2080.1,856.9 L2080.2,858.4 L2080.2,859.9 L2080.3,861.4 L2080.4,862.9 L2080.5,864.4 L2080.6,865.9 L2080.6,867.4 L2080.7,868.9 L2080.8,870.4 L2080.9,871.9 L2080.9,873.4 L2081.0,874.9 L2081.1,876.4 L2081.2,877.9 L2081.2,879.4 L2081.3,880.9 L2081.4,882.4 L2081.5,883.9 L2081.6,885.4 L2081.6,886.9 L2081.7,888.4 L2081.8,889.9 L2081.9,891.4 L2082.0,892.9 L2082.1,894.3 L2082.1,895.8 L2082.2,897.3 L2082.3,898.8 L2082.4,900.3 L2082.5,901.8 L2082.6,903.3 L2082.7,904.8 L2082.8,906.3 L2082.9,907.8 L2082.9,909.3 L2083.0,910.8 L2083.1,912.3 L2083.2,913.8 L2083.3,915.3 L2083.4,916.8 L2083.5,918.3 L2083.6,919.8 L2083.8,921.3 L2083.9,922.8 L2084.0,924.3 L2084.1,925.8 L2084.2,927.3 L2084.3,928.8 L2084.4,930.3 L2084.5,931.8 L2084.7,933.3 L2084.8,934.8 L2084.9,936.3 L2085.0,937.8 L2085.2,939.3 L2085.3,940.8 L2085.4,942.2 L2085.6,943.7 L2085.7,945.2 L2085.8,946.7 L2086.0,948.2 L2086.1,949.7 L2086.3,951.2 L2086.4,952.7 L2086.6,954.2 L2086.7,955.7 L2086.9,957.2 L2087.0,958.7 L2087.2,960.2 L2087.4,961.7 L2088.0,963.0 L2089.1,962.2 L2089.9,960.9 L2090.6,959.6 L2091.3,958.2 L2092.0,956.9 L2092.6,955.6 L2093.4,954.3 L2094.3,953.1 L2095.6,952.6 L2096.7,953.7 L2097.3,955.0 L2097.9,956.4 L2098.4,957.8 L2098.9,959.3 L2099.2,960.7 L2099.5,962.2 L2099.8,963.7 L2100.1,965.1 L2100.3,966.6 L2100.4,968.1 L2100.6,969.6 L2100.7,971.1 L2100.8,972.6 L2100.9,974.1 L2101.0,975.6 L2101.1,977.1 L2101.2,978.6 L2101.3,980.1 L2101.4,981.6 L2101.5,983.1 L2101.6,984.6 L2101.7,986.1 L2101.9,987.6 L2102.0,989.1 L2102.1,990.6 L2102.3,992.1 L2102.4,993.6 L2102.5,995.1 L2102.7,996.5 L2102.8,998.0 L2103.0,999.5 L2103.1,1001.0 L2103.3,1002.5 L2103.5,1004.0 L2103.6,1005.5 L2103.8,1007.0 L2104.0,1008.5 L2104.1,1010.0 L2104.3,1011.5 L2104.4,1013.0 L2104.6,1014.4 L2104.8,1015.9 L2105.0,1017.4 L2105.1,1018.9 L2105.3,1020.4 L2105.5,1021.9 L2105.6,1023.4 L2105.8,1024.9 L2106.0,1026.4 L2106.1,1027.9 L2106.3,1029.4 L2106.5,1030.8 L2106.7,1032.3 L2106.8,1033.8 L2107.0,1035.3 L2107.2,1036.8 L2107.4,1038.3 L2107.5,1039.8 L2107.7,1041.3 L2107.9,1042.8 L2108.1,1044.3 L2108.3,1045.7 L2108.4,1047.2 L2108.6,1048.7 L2108.8,1050.2 L2109.0,1051.7 L2109.2,1053.2 L2109.3,1054.7 L2109.5,1056.2 L2109.7,1057.7 L2109.9,1059.2 L2110.1,1060.6 L2110.3,1062.1 L2110.4,1063.6 L2110.6,1065.1 L2110.8,1066.6 L2111.0,1068.1 L2111.2,1069.6 L2111.4,1071.1 L2111.6,1072.6 L2111.7,1074.0 L2111.9,1075.5 L2112.1,1077.0 L2112.3,1078.5 L2112.5,1080.0 L2112.7,1081.5 L2112.9,1083.0 L2113.1,1084.5 L2113.3,1086.0 L2113.4,1087.4 L2113.6,1088.9 L2113.8,1090.4 L2114.0,1091.9 L2114.2,1093.4 L2114.4,1094.9 L2114.6,1096.4 L2114.8,1097.9 L2115.0,1099.4 L2115.2,1100.8 L2115.4,1102.3 L2115.5,1103.8 L2115.7,1105.3 L2115.9,1106.8 L2116.1,1108.3 L2116.3,1109.8 L2116.5,1111.3 L2116.7,1112.7 L2116.9,1114.2 L2117.1,1115.7 L2117.3,1117.2 L2117.5,1118.7 L2117.7,1120.2 L2117.9,1121.7 L2118.1,1123.2 L2118.3,1124.6 L2118.5,1126.1 L2118.7,1127.6 L2118.9,1129.1 L2119.1,1130.6 L2119.3,1132.1 L2119.5,1133.6 L2119.8,1135.0 L2120.0,1136.5 L2120.2,1138.0 L2120.5,1139.5 L2120.7,1141.0 L2121.0,1142.5 L2121.2,1143.9 L2121.5,1145.4 L2121.8,1146.9 L2122.1,1148.4 L2122.4,1149.8 L2122.7,1151.3 L2123.0,1152.8 L2123.3,1154.2 L2123.6,1155.7 L2124.0,1157.2 L2124.3,1158.6 L2124.7,1160.1 L2125.1,1161.5 L2125.5,1163.0 L2125.9,1164.4 L2126.3,1165.9 L2126.7,1167.3 L2127.1,1168.7 L2127.6,1170.2 L2128.0,1171.6 L2128.5,1173.0 L2129.0,1174.4 L2129.5,1175.8 L2130.0,1177.2 L2130.6,1178.7 L2131.1,1180.0 L2131.7,1181.4 L2132.3,1182.8 L2133.0,1184.2 L2133.7,1185.5 L2134.6,1186.7 L2135.7,1187.7 L2136.9,1188.5 L2138.4,1188.8 L2139.9,1188.7 L2141.4,1188.4 L2142.8,1187.9 L2144.2,1187.4 L2145.6,1186.8 L2147.0,1186.3 L2148.4,1185.9 L2149.9,1185.5 L2151.4,1185.4 L2152.9,1185.6 L2154.3,1186.1 L2155.6,1186.8 L2156.8,1187.7 L2157.9,1188.7 L2159.0,1189.8 L2160.0,1190.9 L2161.0,1192.0 L2161.9,1193.2 L2162.9,1194.3 L2163.9,1195.4 L2164.9,1196.5 L2166.0,1197.6 L2167.1,1198.6 L2168.2,1199.6 L2169.3,1200.6 L2170.4,1201.6 L2171.6,1202.6 L2172.7,1203.6 L2173.8,1204.6 L2174.9,1205.7 L2175.9,1206.7 L2177.0,1207.8 L2178.0,1208.9 L2178.9,1210.1 L2179.8,1211.3 L2180.7,1212.5 L2181.6,1213.7 L2182.4,1215.0 L2183.2,1216.3 L2184.0,1217.5 L2184.7,1218.8 L2185.5,1220.1 L2186.2,1221.4 L2187.0,1222.7 L2187.7,1224.0 L2188.5,1225.3 L2189.2,1226.6 L2190.0,1227.9 L2190.8,1229.2 L2191.6,1230.5 L2192.4,1231.8 L2193.2,1233.0 L2194.0,1234.2 L2194.9,1235.4 L2195.9,1236.6 L2196.8,1237.8 L2197.8,1238.9 L2198.9,1240.0 L2200.0,1240.9 L2201.3,1241.7 L2202.7,1242.3 L2204.1,1242.6 L2205.6,1242.4 L2207.1,1242.0 L2208.4,1241.2 L2209.6,1240.3 L2210.7,1239.3" fill="none" stroke="#000" stroke-width="9.6" stroke-linejoin="round" stroke-linecap="butt"/>
<path d="M722,167 H872" stroke="#ff0000" stroke-width="6"/>
<path d="M722,279 H873" stroke="#000" stroke-width="6"/>
<text x="930.9" y="181" font-size="67">Weight curve</text>
<text x="931.2" y="296.6" font-size="67" textLength="450" lengthAdjust="spacingAndGlyphs">Heat flow curve</text>
<path d="M561.5,1268.0 L483.7,1243.5" stroke="#000" stroke-width="2.5"/><path d="M455.1,1234.5 L488.1,1236.3 L483.2,1251.9 Z" fill="#000"/>
<path d="M923.6,449.5 L891.9,476.8" stroke="#000" stroke-width="2.5"/><path d="M869.2,496.4 L888.1,469.3 L898.8,481.7 Z" fill="#000"/>
<path d="M1376.5,748.4 L1338.4,659.9" stroke="#000" stroke-width="2.5"/><path d="M1326.5,632.4 L1346.7,658.5 L1331.6,665.0 Z" fill="#000"/>
<path d="M1775.2,231.1 L1744.9,310.5" stroke="#000" stroke-width="2.5"/><path d="M1734.2,338.5 L1738.0,305.7 L1753.3,311.5 Z" fill="#000"/>
<path d="M1953.0,292.2 L1942.7,417.5" stroke="#000" stroke-width="2.5"/><path d="M1940.2,447.4 L1934.7,414.8 L1951.0,416.2 Z" fill="#000"/>
<text x="576.2" y="1308" font-size="67">137</text>
<text x="938.8" y="442.1" font-size="67">410</text>
<text x="1381.2" y="808.9" font-size="67">711</text>
<text x="1603.8" y="419.2" font-size="67">1001</text>
<text x="1853.6" y="551" font-size="67">1145</text>
</svg></body></html>
